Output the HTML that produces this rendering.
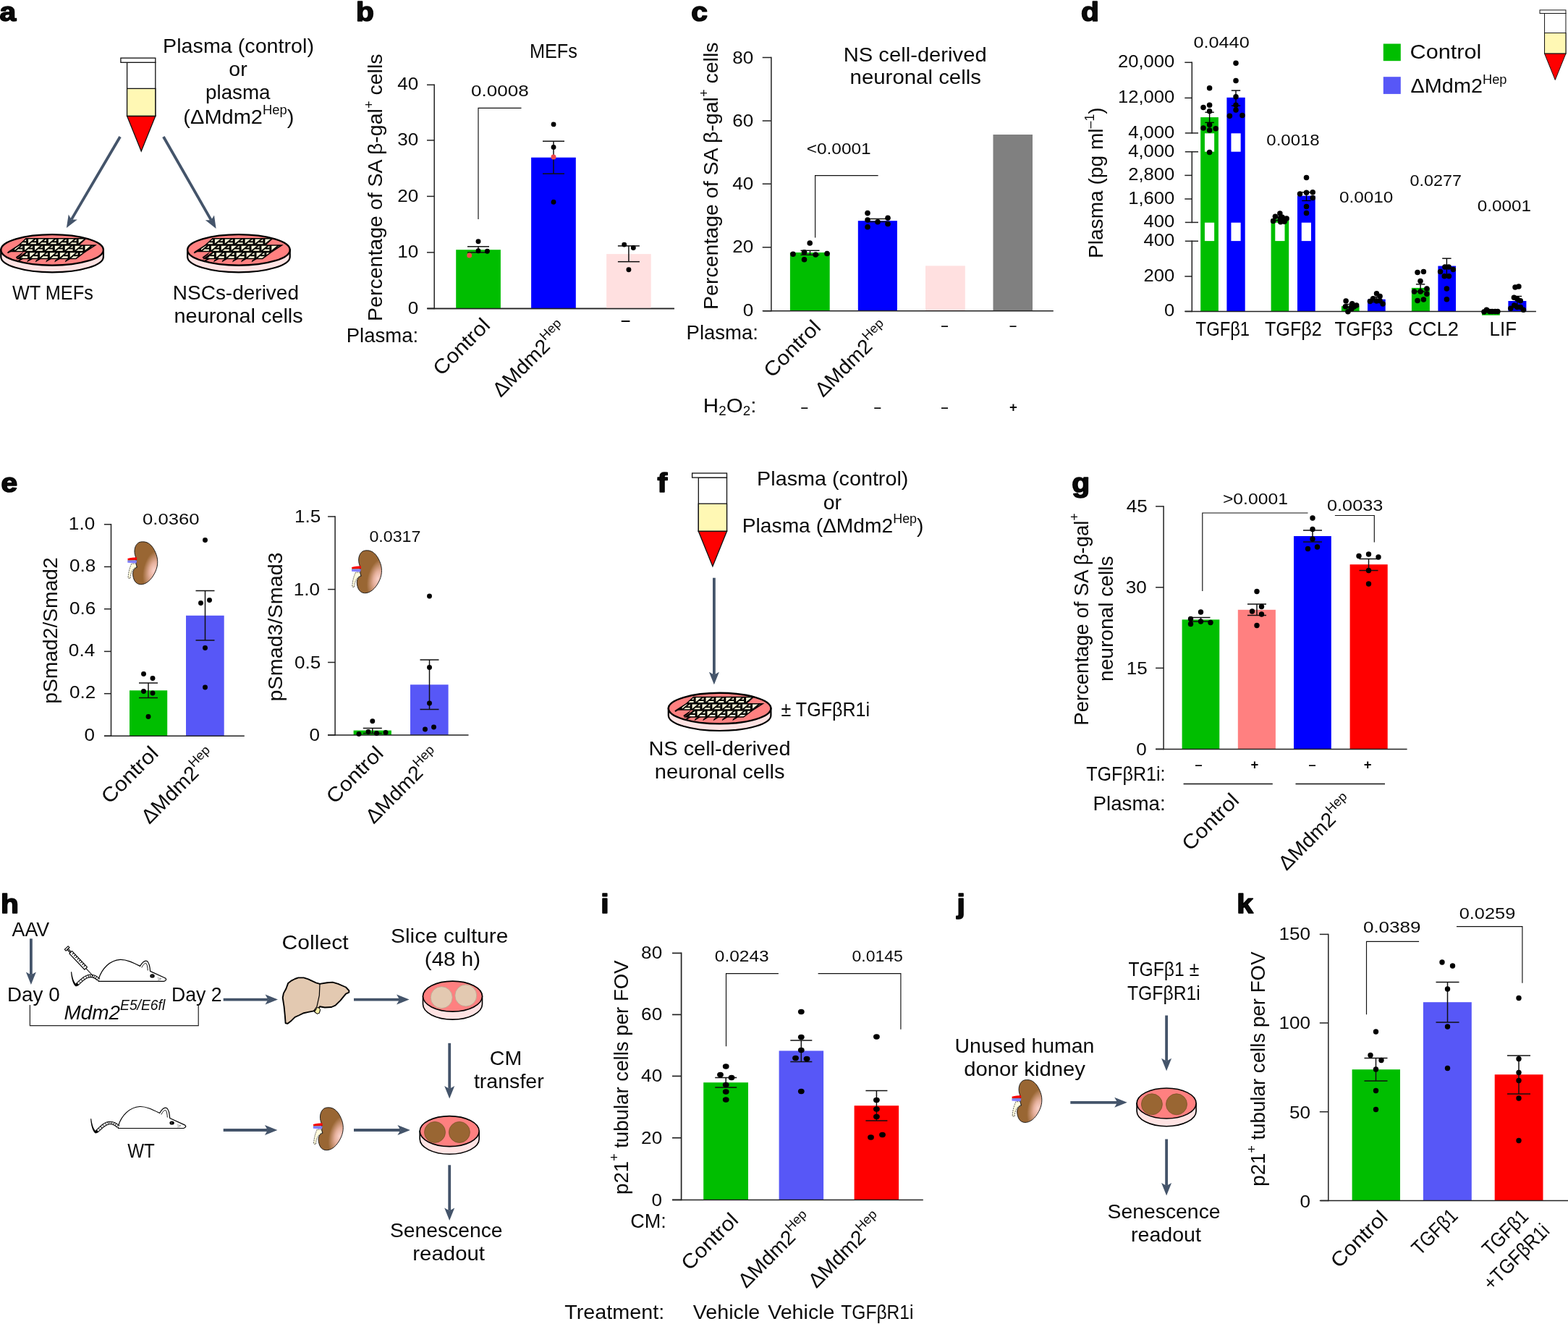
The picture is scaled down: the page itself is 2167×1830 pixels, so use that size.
<!DOCTYPE html>
<html lang="en">
<head>
<meta charset="utf-8">
<title>Figure</title>
<style>
html,body{margin:0;padding:0;background:#fff;}
svg{display:block;}
text{font-family:"Liberation Sans", "DejaVu Sans", sans-serif;fill:#0a0a0a;}
</style>
</head>
<body>
<svg width="2167" height="1830" viewBox="0 0 2167 1830">
<defs>
<radialGradient id="kidgrad" gradientUnits="userSpaceOnUse" cx="0" cy="0" r="1" gradientTransform="translate(52.6 48) rotate(14) scale(14.5 28)">
<stop offset="0" stop-color="#FBD2CA"/><stop offset="0.4" stop-color="#E6B09C"/><stop offset="1" stop-color="#996633"/>
</radialGradient>
</defs>
<rect x="0" y="0" width="2167" height="1830" fill="#ffffff"/>
<text transform="translate(-0.55,28.50) scale(1.1,1)" font-size="37" font-weight="bold" fill="#000" stroke="#000" stroke-width="1.6" stroke-linejoin="round">a</text>
<g transform="translate(166.30,79.80) scale(1.0)" stroke="#111" stroke-width="1.3" stroke-linejoin="miter"><rect x="9.3" y="6.5" width="39.2" height="74.2" fill="#fff"/><rect x="9.3" y="42.6" width="39.2" height="38.1" fill="#FFF8B4"/><polygon points="9.3,80.7 48.5,80.7 28.9,129.2" fill="#FF0000"/><rect x="0.6" y="0.4" width="47.9" height="6.1" fill="#fff"/></g>
<line x1="166.00" y1="189.00" x2="98.73" y2="303.40" stroke="#44546A" stroke-width="3.8"/>
<polygon points="91.89,315.03 94.73,296.40 98.73,303.40 106.80,303.50" fill="#44546A"/>
<line x1="225.90" y1="189.00" x2="291.89" y2="304.32" stroke="#44546A" stroke-width="3.8"/>
<polygon points="298.60,316.04 283.83,304.33 291.89,304.32 295.98,297.38" fill="#44546A"/>
<g transform="translate(0.00,0.00)"><path d="M1.2999999999999972,345.4 L1.2999999999999972,355.0 A70.8,21.3 0 0 0 142.89999999999998,355.0 L142.89999999999998,345.4 Z" fill="#FFE3E3" stroke="#000" stroke-width="2.2"/><ellipse cx="72.1" cy="345.4" rx="70.8" ry="21.3" fill="#FF8080" stroke="#000" stroke-width="2.4"/><clipPath id="rc72_0"><path d="M27.0,338.0 L36.0,329.8 L118.5,329.8 L109.5,338.0 Z"/></clipPath><path d="M27.0,338.0 L36.0,329.8 L118.5,329.8 L109.5,338.0 Z" fill="#FFFBDB" stroke="#000" stroke-width="1.5" stroke-linejoin="miter"/><g clip-path="url(#rc72_0)" fill="none" stroke="#000"><path d="M-4.1,328.8 V339.0 M9.8,328.8 V339.0 M23.7,328.8 V339.0 M37.6,328.8 V339.0 M51.5,328.8 V339.0 M65.4,328.8 V339.0 M79.3,328.8 V339.0 M93.2,328.8 V339.0 M107.1,328.8 V339.0 M121.0,328.8 V339.0 M134.9,328.8 V339.0 M148.8,328.8 V339.0 M162.7,328.8 V339.0" stroke-width="3.0"/><path d="M-3.3,338.3 L7.7,329.5 M2.9,334.3 L8.6,334.3 M10.6,338.3 L21.6,329.5 M16.8,334.3 L22.5,334.3 M24.5,338.3 L35.5,329.5 M30.7,334.3 L36.4,334.3 M38.4,338.3 L49.4,329.5 M44.6,334.3 L50.3,334.3 M52.3,338.3 L63.3,329.5 M58.5,334.3 L64.2,334.3 M66.2,338.3 L77.2,329.5 M72.4,334.3 L78.1,334.3 M80.1,338.3 L91.1,329.5 M86.3,334.3 L92.0,334.3 M94.0,338.3 L105.0,329.5 M100.2,334.3 L105.9,334.3 M107.9,338.3 L118.9,329.5 M114.1,334.3 L119.8,334.3 M121.8,338.3 L132.8,329.5 M128.0,334.3 L133.7,334.3 M135.7,338.3 L146.7,329.5 M141.9,334.3 L147.6,334.3 M149.6,338.3 L160.6,329.5 M155.8,334.3 L161.5,334.3 M163.5,338.3 L174.5,329.5 M169.7,334.3 L175.4,334.3" stroke-width="2.0"/></g><clipPath id="rc72_1"><path d="M13.0,347.4 L26.0,339.0 L131.5,339.0 L118.5,347.4 Z"/></clipPath><path d="M13.0,347.4 L26.0,339.0 L131.5,339.0 L118.5,347.4 Z" fill="#FFFBDB" stroke="#000" stroke-width="1.5" stroke-linejoin="miter"/><g clip-path="url(#rc72_1)" fill="none" stroke="#000"><path d="M-9.1,338.0 V348.4 M4.8,338.0 V348.4 M18.7,338.0 V348.4 M32.6,338.0 V348.4 M46.5,338.0 V348.4 M60.4,338.0 V348.4 M74.3,338.0 V348.4 M88.2,338.0 V348.4 M102.1,338.0 V348.4 M116.0,338.0 V348.4 M129.9,338.0 V348.4 M143.8,338.0 V348.4 M157.7,338.0 V348.4" stroke-width="3.0"/><path d="M-8.3,347.7 L2.7,338.7 M-2.1,343.6 L3.6,343.6 M5.6,347.7 L16.6,338.7 M11.8,343.6 L17.5,343.6 M19.5,347.7 L30.5,338.7 M25.7,343.6 L31.4,343.6 M33.4,347.7 L44.4,338.7 M39.6,343.6 L45.3,343.6 M47.3,347.7 L58.3,338.7 M53.5,343.6 L59.2,343.6 M61.2,347.7 L72.2,338.7 M67.4,343.6 L73.1,343.6 M75.1,347.7 L86.1,338.7 M81.3,343.6 L87.0,343.6 M89.0,347.7 L100.0,338.7 M95.2,343.6 L100.9,343.6 M102.9,347.7 L113.9,338.7 M109.1,343.6 L114.8,343.6 M116.8,347.7 L127.8,338.7 M123.0,343.6 L128.7,343.6 M130.7,347.7 L141.7,338.7 M136.9,343.6 L142.6,343.6 M144.6,347.7 L155.6,338.7 M150.8,343.6 L156.5,343.6 M158.5,347.7 L169.5,338.7 M164.7,343.6 L170.4,343.6" stroke-width="2.0"/></g><clipPath id="rc72_2"><path d="M24.5,357.4 L36.5,348.4 L117.0,348.4 L105.0,357.4 Z"/></clipPath><path d="M24.5,357.4 L36.5,348.4 L117.0,348.4 L105.0,357.4 Z" fill="#FFFBDB" stroke="#000" stroke-width="1.5" stroke-linejoin="miter"/><g clip-path="url(#rc72_2)" fill="none" stroke="#000"><path d="M-2.1,347.4 V358.4 M11.8,347.4 V358.4 M25.7,347.4 V358.4 M39.6,347.4 V358.4 M53.5,347.4 V358.4 M67.4,347.4 V358.4 M81.3,347.4 V358.4 M95.2,347.4 V358.4 M109.1,347.4 V358.4 M123.0,347.4 V358.4 M136.9,347.4 V358.4 M150.8,347.4 V358.4 M164.7,347.4 V358.4" stroke-width="3.0"/><path d="M-1.3,357.7 L9.7,348.1 M4.9,353.3 L10.6,353.3 M12.6,357.7 L23.6,348.1 M18.8,353.3 L24.5,353.3 M26.5,357.7 L37.5,348.1 M32.7,353.3 L38.4,353.3 M40.4,357.7 L51.4,348.1 M46.6,353.3 L52.3,353.3 M54.3,357.7 L65.3,348.1 M60.5,353.3 L66.2,353.3 M68.2,357.7 L79.2,348.1 M74.4,353.3 L80.1,353.3 M82.1,357.7 L93.1,348.1 M88.3,353.3 L94.0,353.3 M96.0,357.7 L107.0,348.1 M102.2,353.3 L107.9,353.3 M109.9,357.7 L120.9,348.1 M116.1,353.3 L121.8,353.3 M123.8,357.7 L134.8,348.1 M130.0,353.3 L135.7,353.3 M137.7,357.7 L148.7,348.1 M143.9,353.3 L149.6,353.3 M151.6,357.7 L162.6,348.1 M157.8,353.3 L163.5,353.3 M165.5,357.7 L176.5,348.1 M171.7,353.3 L177.4,353.3" stroke-width="2.0"/></g><path d="M33.0,357.2 L24.2,362.6 L25.2,359.8 L30.5,356.6 Z M46.0,357.2 L37.2,362.6 L38.2,359.8 L43.5,356.6 Z M57.5,357.2 L48.7,362.6 L49.7,359.8 L55.0,356.6 Z M72.0,357.2 L63.2,362.6 L64.2,359.8 L69.5,356.6 Z M84.0,357.2 L75.2,362.6 L76.2,359.8 L81.5,356.6 Z M98.5,357.2 L89.7,362.6 L90.7,359.8 L96.0,356.6 Z M25.5,339.4 L9.8,348.9 L11.0,350.2 L16.0,347.4 Z M33.0,347.6 L21.8,355.4 L23.0,357.2 L29,352.5 Z" fill="#000"/></g>
<g transform="translate(257.80,0.00)"><path d="M1.2999999999999972,345.4 L1.2999999999999972,355.0 A70.8,21.3 0 0 0 142.89999999999998,355.0 L142.89999999999998,345.4 Z" fill="#FFE3E3" stroke="#000" stroke-width="2.2"/><ellipse cx="72.1" cy="345.4" rx="70.8" ry="21.3" fill="#FF8080" stroke="#000" stroke-width="2.4"/><clipPath id="rc329_0"><path d="M27.0,338.0 L36.0,329.8 L118.5,329.8 L109.5,338.0 Z"/></clipPath><path d="M27.0,338.0 L36.0,329.8 L118.5,329.8 L109.5,338.0 Z" fill="#FFFBDB" stroke="#000" stroke-width="1.5" stroke-linejoin="miter"/><g clip-path="url(#rc329_0)" fill="none" stroke="#000"><path d="M-4.1,328.8 V339.0 M9.8,328.8 V339.0 M23.7,328.8 V339.0 M37.6,328.8 V339.0 M51.5,328.8 V339.0 M65.4,328.8 V339.0 M79.3,328.8 V339.0 M93.2,328.8 V339.0 M107.1,328.8 V339.0 M121.0,328.8 V339.0 M134.9,328.8 V339.0 M148.8,328.8 V339.0 M162.7,328.8 V339.0" stroke-width="3.0"/><path d="M-3.3,338.3 L7.7,329.5 M2.9,334.3 L8.6,334.3 M10.6,338.3 L21.6,329.5 M16.8,334.3 L22.5,334.3 M24.5,338.3 L35.5,329.5 M30.7,334.3 L36.4,334.3 M38.4,338.3 L49.4,329.5 M44.6,334.3 L50.3,334.3 M52.3,338.3 L63.3,329.5 M58.5,334.3 L64.2,334.3 M66.2,338.3 L77.2,329.5 M72.4,334.3 L78.1,334.3 M80.1,338.3 L91.1,329.5 M86.3,334.3 L92.0,334.3 M94.0,338.3 L105.0,329.5 M100.2,334.3 L105.9,334.3 M107.9,338.3 L118.9,329.5 M114.1,334.3 L119.8,334.3 M121.8,338.3 L132.8,329.5 M128.0,334.3 L133.7,334.3 M135.7,338.3 L146.7,329.5 M141.9,334.3 L147.6,334.3 M149.6,338.3 L160.6,329.5 M155.8,334.3 L161.5,334.3 M163.5,338.3 L174.5,329.5 M169.7,334.3 L175.4,334.3" stroke-width="2.0"/></g><clipPath id="rc329_1"><path d="M13.0,347.4 L26.0,339.0 L131.5,339.0 L118.5,347.4 Z"/></clipPath><path d="M13.0,347.4 L26.0,339.0 L131.5,339.0 L118.5,347.4 Z" fill="#FFFBDB" stroke="#000" stroke-width="1.5" stroke-linejoin="miter"/><g clip-path="url(#rc329_1)" fill="none" stroke="#000"><path d="M-9.1,338.0 V348.4 M4.8,338.0 V348.4 M18.7,338.0 V348.4 M32.6,338.0 V348.4 M46.5,338.0 V348.4 M60.4,338.0 V348.4 M74.3,338.0 V348.4 M88.2,338.0 V348.4 M102.1,338.0 V348.4 M116.0,338.0 V348.4 M129.9,338.0 V348.4 M143.8,338.0 V348.4 M157.7,338.0 V348.4" stroke-width="3.0"/><path d="M-8.3,347.7 L2.7,338.7 M-2.1,343.6 L3.6,343.6 M5.6,347.7 L16.6,338.7 M11.8,343.6 L17.5,343.6 M19.5,347.7 L30.5,338.7 M25.7,343.6 L31.4,343.6 M33.4,347.7 L44.4,338.7 M39.6,343.6 L45.3,343.6 M47.3,347.7 L58.3,338.7 M53.5,343.6 L59.2,343.6 M61.2,347.7 L72.2,338.7 M67.4,343.6 L73.1,343.6 M75.1,347.7 L86.1,338.7 M81.3,343.6 L87.0,343.6 M89.0,347.7 L100.0,338.7 M95.2,343.6 L100.9,343.6 M102.9,347.7 L113.9,338.7 M109.1,343.6 L114.8,343.6 M116.8,347.7 L127.8,338.7 M123.0,343.6 L128.7,343.6 M130.7,347.7 L141.7,338.7 M136.9,343.6 L142.6,343.6 M144.6,347.7 L155.6,338.7 M150.8,343.6 L156.5,343.6 M158.5,347.7 L169.5,338.7 M164.7,343.6 L170.4,343.6" stroke-width="2.0"/></g><clipPath id="rc329_2"><path d="M24.5,357.4 L36.5,348.4 L117.0,348.4 L105.0,357.4 Z"/></clipPath><path d="M24.5,357.4 L36.5,348.4 L117.0,348.4 L105.0,357.4 Z" fill="#FFFBDB" stroke="#000" stroke-width="1.5" stroke-linejoin="miter"/><g clip-path="url(#rc329_2)" fill="none" stroke="#000"><path d="M-2.1,347.4 V358.4 M11.8,347.4 V358.4 M25.7,347.4 V358.4 M39.6,347.4 V358.4 M53.5,347.4 V358.4 M67.4,347.4 V358.4 M81.3,347.4 V358.4 M95.2,347.4 V358.4 M109.1,347.4 V358.4 M123.0,347.4 V358.4 M136.9,347.4 V358.4 M150.8,347.4 V358.4 M164.7,347.4 V358.4" stroke-width="3.0"/><path d="M-1.3,357.7 L9.7,348.1 M4.9,353.3 L10.6,353.3 M12.6,357.7 L23.6,348.1 M18.8,353.3 L24.5,353.3 M26.5,357.7 L37.5,348.1 M32.7,353.3 L38.4,353.3 M40.4,357.7 L51.4,348.1 M46.6,353.3 L52.3,353.3 M54.3,357.7 L65.3,348.1 M60.5,353.3 L66.2,353.3 M68.2,357.7 L79.2,348.1 M74.4,353.3 L80.1,353.3 M82.1,357.7 L93.1,348.1 M88.3,353.3 L94.0,353.3 M96.0,357.7 L107.0,348.1 M102.2,353.3 L107.9,353.3 M109.9,357.7 L120.9,348.1 M116.1,353.3 L121.8,353.3 M123.8,357.7 L134.8,348.1 M130.0,353.3 L135.7,353.3 M137.7,357.7 L148.7,348.1 M143.9,353.3 L149.6,353.3 M151.6,357.7 L162.6,348.1 M157.8,353.3 L163.5,353.3 M165.5,357.7 L176.5,348.1 M171.7,353.3 L177.4,353.3" stroke-width="2.0"/></g><path d="M33.0,357.2 L24.2,362.6 L25.2,359.8 L30.5,356.6 Z M46.0,357.2 L37.2,362.6 L38.2,359.8 L43.5,356.6 Z M57.5,357.2 L48.7,362.6 L49.7,359.8 L55.0,356.6 Z M72.0,357.2 L63.2,362.6 L64.2,359.8 L69.5,356.6 Z M84.0,357.2 L75.2,362.6 L76.2,359.8 L81.5,356.6 Z M98.5,357.2 L89.7,362.6 L90.7,359.8 L96.0,356.6 Z M25.5,339.4 L9.8,348.9 L11.0,350.2 L16.0,347.4 Z M33.0,347.6 L21.8,355.4 L23.0,357.2 L29,352.5 Z" fill="#000"/></g>
<text x="225.10" y="72.90" font-size="28" textLength="208.91" lengthAdjust="spacingAndGlyphs">Plasma (control)</text>
<text x="316.38" y="104.80" font-size="28" textLength="25.35" lengthAdjust="spacingAndGlyphs">or</text>
<text x="284.01" y="137.40" font-size="28" textLength="89.57" lengthAdjust="spacingAndGlyphs">plasma</text>
<text x="253.36" y="170.90" font-size="28" textLength="153.01" lengthAdjust="spacingAndGlyphs">(ΔMdm2<tspan dy="-12.46" font-size="17.78">Hep</tspan><tspan dy="12.46" font-size="28">&#8203;</tspan>)</text>
<text x="16.90" y="413.60" font-size="28" textLength="111.90" lengthAdjust="spacingAndGlyphs">WT MEFs</text>
<text x="238.80" y="413.60" font-size="28" textLength="174.17" lengthAdjust="spacingAndGlyphs">NSCs-derived</text>
<text x="240.57" y="446.30" font-size="28" textLength="178.16" lengthAdjust="spacingAndGlyphs">neuronal cells</text>
<text transform="translate(491.95,28.50) scale(1.1,1)" font-size="37" font-weight="bold" fill="#000" stroke="#000" stroke-width="1.6" stroke-linejoin="round">b</text>
<text x="731.89" y="80.30" font-size="28" textLength="66.11" lengthAdjust="spacingAndGlyphs">MEFs</text>
<line x1="600.20" y1="116.55" x2="600.20" y2="427.15" stroke="#222222" stroke-width="1.5"/>
<line x1="590.00" y1="117.30" x2="600.20" y2="117.30" stroke="#222222" stroke-width="1.5"/>
<text x="549.23" y="124.40" font-size="23.3" textLength="29.02" lengthAdjust="spacingAndGlyphs">40</text>
<line x1="590.00" y1="193.90" x2="600.20" y2="193.90" stroke="#222222" stroke-width="1.5"/>
<text x="549.23" y="201.07" font-size="23.3" textLength="29.02" lengthAdjust="spacingAndGlyphs">30</text>
<line x1="590.00" y1="271.40" x2="600.20" y2="271.40" stroke="#222222" stroke-width="1.5"/>
<text x="549.23" y="278.65" font-size="23.3" textLength="29.02" lengthAdjust="spacingAndGlyphs">20</text>
<line x1="590.00" y1="348.90" x2="600.20" y2="348.90" stroke="#222222" stroke-width="1.5"/>
<text x="549.23" y="356.22" font-size="23.3" textLength="29.02" lengthAdjust="spacingAndGlyphs">10</text>
<line x1="590.00" y1="426.40" x2="600.20" y2="426.40" stroke="#222222" stroke-width="1.5"/>
<text x="563.74" y="433.80" font-size="23.3" textLength="14.51" lengthAdjust="spacingAndGlyphs">0</text>
<line x1="590.50" y1="426.40" x2="931.90" y2="426.40" stroke="#222222" stroke-width="1.5"/>
<rect x="630.20" y="345.20" width="61.70" height="81.20" fill="#00BE00"/>
<rect x="734.10" y="217.70" width="61.70" height="208.70" fill="#0000FF"/>
<rect x="838.10" y="351.10" width="61.60" height="75.30" fill="#FFE0E0"/>
<line x1="590.50" y1="426.40" x2="931.90" y2="426.40" stroke="#222222" stroke-width="1.5"/>
<line x1="661.00" y1="340.80" x2="661.00" y2="348.90" stroke="#111" stroke-width="1.5"/>
<line x1="646.00" y1="340.80" x2="676.00" y2="340.80" stroke="#111" stroke-width="1.5"/>
<line x1="646.00" y1="348.90" x2="676.00" y2="348.90" stroke="#111" stroke-width="1.5"/>
<line x1="765.00" y1="195.20" x2="765.00" y2="240.10" stroke="#111" stroke-width="1.5"/>
<line x1="750.00" y1="195.20" x2="780.00" y2="195.20" stroke="#111" stroke-width="1.5"/>
<line x1="750.00" y1="240.10" x2="780.00" y2="240.10" stroke="#111" stroke-width="1.5"/>
<line x1="868.90" y1="339.90" x2="868.90" y2="361.70" stroke="#111" stroke-width="1.5"/>
<line x1="853.90" y1="339.90" x2="883.90" y2="339.90" stroke="#111" stroke-width="1.5"/>
<line x1="853.90" y1="361.70" x2="883.90" y2="361.70" stroke="#111" stroke-width="1.5"/>
<circle cx="661.00" cy="333.70" r="3.45" fill="#000"/>
<circle cx="661.00" cy="346.70" r="3.45" fill="#000"/>
<circle cx="673.40" cy="347.20" r="3.45" fill="#000"/>
<circle cx="648.70" cy="352.90" r="3.5" fill="#F04848"/>
<circle cx="765.00" cy="171.90" r="3.45" fill="#000"/>
<circle cx="765.00" cy="203.40" r="3.45" fill="#000"/>
<circle cx="765.00" cy="279.30" r="3.45" fill="#000"/>
<circle cx="765.00" cy="217.00" r="3.5" fill="#F04848"/>
<circle cx="862.70" cy="338.10" r="3.45" fill="#000"/>
<circle cx="875.30" cy="342.50" r="3.45" fill="#000"/>
<circle cx="868.90" cy="372.70" r="3.45" fill="#000"/>
<polyline points="661.00,302.90 661.00,149.40 720.50,149.40" fill="none" stroke="#111" stroke-width="1.15" stroke-linejoin="miter"/>
<text x="651.10" y="133.00" font-size="22.8" textLength="79.68" lengthAdjust="spacingAndGlyphs">0.0008</text>
<text transform="translate(528.00,442.00) rotate(-90)" x="-2.03" y="0" font-size="28" textLength="369.54" lengthAdjust="spacingAndGlyphs">Percentage of SA β-gal<tspan dy="-12.46" font-size="17.78">+</tspan><tspan dy="12.46" font-size="28">&#8203;</tspan> cells</text>
<text x="478.73" y="472.90" font-size="28" textLength="99.52" lengthAdjust="spacingAndGlyphs">Plasma:</text>
<text transform="translate(678.00,452.30) rotate(-45)" x="-96.48" y="0" font-size="28" textLength="97.81" lengthAdjust="spacingAndGlyphs">Control</text>
<text transform="translate(785.50,456.50) rotate(-45)" x="-132.20" y="0" font-size="28" textLength="132.08" lengthAdjust="spacingAndGlyphs">ΔMdm2<tspan dy="-12.46" font-size="17.78">Hep</tspan><tspan dy="12.46" font-size="28">&#8203;</tspan></text>
<text x="858.80" y="452.10" font-size="29.9" textLength="11.73" lengthAdjust="spacingAndGlyphs">–</text>
<text transform="translate(955.15,28.50) scale(1.1,1)" font-size="37" font-weight="bold" fill="#000" stroke="#000" stroke-width="1.6" stroke-linejoin="round">c</text>
<line x1="1065.90" y1="78.75" x2="1065.90" y2="430.45" stroke="#222222" stroke-width="1.5"/>
<line x1="1053.70" y1="79.50" x2="1065.90" y2="79.50" stroke="#222222" stroke-width="1.5"/>
<text x="1012.33" y="87.50" font-size="23.3" textLength="29.02" lengthAdjust="spacingAndGlyphs">80</text>
<line x1="1053.70" y1="167.00" x2="1065.90" y2="167.00" stroke="#222222" stroke-width="1.5"/>
<text x="1012.33" y="174.75" font-size="23.3" textLength="29.02" lengthAdjust="spacingAndGlyphs">60</text>
<line x1="1053.70" y1="254.20" x2="1065.90" y2="254.20" stroke="#222222" stroke-width="1.5"/>
<text x="1012.33" y="261.70" font-size="23.3" textLength="29.02" lengthAdjust="spacingAndGlyphs">40</text>
<line x1="1053.70" y1="341.80" x2="1065.90" y2="341.80" stroke="#222222" stroke-width="1.5"/>
<text x="1012.33" y="349.05" font-size="23.3" textLength="29.02" lengthAdjust="spacingAndGlyphs">20</text>
<line x1="1053.70" y1="429.70" x2="1065.90" y2="429.70" stroke="#222222" stroke-width="1.5"/>
<text x="1026.84" y="436.70" font-size="23.3" textLength="14.51" lengthAdjust="spacingAndGlyphs">0</text>
<rect x="1091.90" y="349.00" width="54.80" height="80.70" fill="#00BE00"/>
<rect x="1185.80" y="305.20" width="54.10" height="124.50" fill="#0000FF"/>
<rect x="1279.00" y="367.40" width="54.80" height="62.30" fill="#FFE0E0"/>
<rect x="1372.50" y="186.00" width="54.50" height="243.70" fill="#808080"/>
<line x1="1054.60" y1="429.70" x2="1455.80" y2="429.70" stroke="#222222" stroke-width="1.5"/>
<text x="1165.71" y="85.00" font-size="28" textLength="197.92" lengthAdjust="spacingAndGlyphs">NS cell-derived</text>
<text x="1174.55" y="116.00" font-size="28" textLength="181.40" lengthAdjust="spacingAndGlyphs">neuronal cells</text>
<text x="1114.73" y="212.80" font-size="22.8" textLength="89.00" lengthAdjust="spacingAndGlyphs">&lt;0.0001</text>
<polyline points="1126.60,328.40 1126.60,242.60 1213.60,242.60" fill="none" stroke="#111" stroke-width="1.15" stroke-linejoin="miter"/>
<line x1="1119.50" y1="346.30" x2="1119.50" y2="352.30" stroke="#111" stroke-width="1.5"/>
<line x1="1106.50" y1="346.30" x2="1132.50" y2="346.30" stroke="#111" stroke-width="1.5"/>
<line x1="1106.50" y1="352.30" x2="1132.50" y2="352.30" stroke="#111" stroke-width="1.5"/>
<line x1="1213.00" y1="302.50" x2="1213.00" y2="306.50" stroke="#111" stroke-width="1.5"/>
<line x1="1200.00" y1="302.50" x2="1226.00" y2="302.50" stroke="#111" stroke-width="1.5"/>
<line x1="1200.00" y1="306.50" x2="1226.00" y2="306.50" stroke="#111" stroke-width="1.5"/>
<circle cx="1096.00" cy="351.30" r="3.8" fill="#000"/>
<circle cx="1111.50" cy="348.70" r="3.8" fill="#000"/>
<circle cx="1111.50" cy="358.80" r="3.8" fill="#000"/>
<circle cx="1119.20" cy="336.00" r="3.8" fill="#000"/>
<circle cx="1127.20" cy="352.00" r="3.8" fill="#000"/>
<circle cx="1143.00" cy="350.50" r="3.8" fill="#000"/>
<circle cx="1199.00" cy="294.60" r="3.8" fill="#000"/>
<circle cx="1199.00" cy="304.00" r="3.8" fill="#000"/>
<circle cx="1199.00" cy="313.80" r="3.8" fill="#000"/>
<circle cx="1213.00" cy="306.80" r="3.8" fill="#000"/>
<circle cx="1227.00" cy="301.30" r="3.8" fill="#000"/>
<circle cx="1227.00" cy="309.50" r="3.8" fill="#000"/>
<text transform="translate(991.50,426.00) rotate(-90)" x="-2.03" y="0" font-size="28" textLength="369.54" lengthAdjust="spacingAndGlyphs">Percentage of SA β-gal<tspan dy="-12.46" font-size="17.78">+</tspan><tspan dy="12.46" font-size="28">&#8203;</tspan> cells</text>
<text x="948.53" y="469.40" font-size="28" textLength="99.52" lengthAdjust="spacingAndGlyphs">Plasma:</text>
<text transform="translate(1135.00,455.00) rotate(-45)" x="-96.48" y="0" font-size="28" textLength="97.81" lengthAdjust="spacingAndGlyphs">Control</text>
<text transform="translate(1231.00,456.50) rotate(-45)" x="-132.20" y="0" font-size="28" textLength="132.08" lengthAdjust="spacingAndGlyphs">ΔMdm2<tspan dy="-12.46" font-size="17.78">Hep</tspan><tspan dy="12.46" font-size="28">&#8203;</tspan></text>
<text x="1301.10" y="457.85" font-size="26" textLength="9.06" lengthAdjust="spacingAndGlyphs">–</text>
<text x="1395.40" y="457.85" font-size="26" textLength="9.06" lengthAdjust="spacingAndGlyphs">–</text>
<text x="971.89" y="569.60" font-size="28" textLength="73.49" lengthAdjust="spacingAndGlyphs">H<tspan dy="4.76" font-size="17.78">2</tspan><tspan dy="-4.76" font-size="28">&#8203;</tspan>O<tspan dy="4.76" font-size="17.78">2</tspan><tspan dy="-4.76" font-size="28">&#8203;</tspan>:</text>
<text x="1107.30" y="570.55" font-size="26" textLength="9.06" lengthAdjust="spacingAndGlyphs">–</text>
<text x="1208.30" y="570.55" font-size="26" textLength="9.06" lengthAdjust="spacingAndGlyphs">–</text>
<text x="1301.10" y="570.55" font-size="26" textLength="9.06" lengthAdjust="spacingAndGlyphs">–</text>
<text x="1394.95" y="568.90" font-size="18" font-weight="bold" textLength="10.83" lengthAdjust="spacingAndGlyphs">+</text>
<text transform="translate(1494.00,28.50) scale(1.1,1)" font-size="37" font-weight="bold" fill="#000" stroke="#000" stroke-width="1.6" stroke-linejoin="round">d</text>
<line x1="1647.30" y1="85.55" x2="1647.30" y2="184.65" stroke="#222222" stroke-width="1.5"/>
<line x1="1647.30" y1="209.05" x2="1647.30" y2="308.15" stroke="#222222" stroke-width="1.5"/>
<line x1="1647.30" y1="332.55" x2="1647.30" y2="431.15" stroke="#222222" stroke-width="1.5"/>
<line x1="1637.30" y1="86.30" x2="1647.30" y2="86.30" stroke="#222222" stroke-width="1.5"/>
<text x="1544.97" y="93.20" font-size="23.3" textLength="78.38" lengthAdjust="spacingAndGlyphs">20,000</text>
<line x1="1637.30" y1="135.40" x2="1647.30" y2="135.40" stroke="#222222" stroke-width="1.5"/>
<text x="1544.97" y="142.30" font-size="23.3" textLength="78.38" lengthAdjust="spacingAndGlyphs">12,000</text>
<line x1="1637.80" y1="183.90" x2="1656.00" y2="183.90" stroke="#222222" stroke-width="1.5"/>
<text x="1559.22" y="190.80" font-size="23.3" textLength="64.13" lengthAdjust="spacingAndGlyphs">4,000</text>
<line x1="1637.80" y1="209.80" x2="1656.00" y2="209.80" stroke="#222222" stroke-width="1.5"/>
<text x="1559.22" y="216.70" font-size="23.3" textLength="64.13" lengthAdjust="spacingAndGlyphs">4,000</text>
<line x1="1637.30" y1="242.40" x2="1647.30" y2="242.40" stroke="#222222" stroke-width="1.5"/>
<text x="1559.22" y="249.30" font-size="23.3" textLength="64.13" lengthAdjust="spacingAndGlyphs">2,800</text>
<line x1="1637.30" y1="275.00" x2="1647.30" y2="275.00" stroke="#222222" stroke-width="1.5"/>
<text x="1559.22" y="281.90" font-size="23.3" textLength="64.13" lengthAdjust="spacingAndGlyphs">1,600</text>
<line x1="1637.80" y1="307.40" x2="1656.00" y2="307.40" stroke="#222222" stroke-width="1.5"/>
<text x="1580.60" y="314.30" font-size="23.3" textLength="42.76" lengthAdjust="spacingAndGlyphs">400</text>
<line x1="1637.80" y1="333.30" x2="1656.00" y2="333.30" stroke="#222222" stroke-width="1.5"/>
<text x="1580.60" y="340.20" font-size="23.3" textLength="42.76" lengthAdjust="spacingAndGlyphs">400</text>
<line x1="1637.30" y1="382.00" x2="1647.30" y2="382.00" stroke="#222222" stroke-width="1.5"/>
<text x="1580.60" y="388.90" font-size="23.3" textLength="42.76" lengthAdjust="spacingAndGlyphs">200</text>
<line x1="1637.30" y1="430.40" x2="1647.30" y2="430.40" stroke="#222222" stroke-width="1.5"/>
<text x="1609.10" y="437.30" font-size="23.3" textLength="14.25" lengthAdjust="spacingAndGlyphs">0</text>
<rect x="1659.20" y="162.10" width="24.70" height="268.30" fill="#00BE00"/>
<rect x="1695.40" y="134.80" width="25.30" height="295.60" fill="#0000FF"/>
<rect x="1756.60" y="302.50" width="24.60" height="127.90" fill="#00BE00"/>
<rect x="1793.00" y="270.60" width="24.70" height="159.80" fill="#0000FF"/>
<rect x="1853.90" y="423.20" width="24.70" height="7.20" fill="#00BE00"/>
<rect x="1890.00" y="413.70" width="24.70" height="16.70" fill="#0000FF"/>
<rect x="1950.90" y="397.90" width="25.00" height="32.50" fill="#00BE00"/>
<rect x="1987.40" y="367.60" width="24.60" height="62.80" fill="#0000FF"/>
<rect x="2084.40" y="416.00" width="25.00" height="14.40" fill="#0000FF"/>
<rect x="2048.00" y="430.40" width="24.80" height="5.30" fill="#00BE00"/>
<rect x="1664.95" y="184.30" width="13.20" height="25.40" fill="#fff"/>
<rect x="1664.95" y="307.70" width="13.20" height="25.40" fill="#fff"/>
<rect x="1701.45" y="184.30" width="13.20" height="25.40" fill="#fff"/>
<rect x="1701.45" y="307.70" width="13.20" height="25.40" fill="#fff"/>
<rect x="1762.30" y="307.70" width="13.20" height="25.40" fill="#fff"/>
<rect x="1798.75" y="307.70" width="13.20" height="25.40" fill="#fff"/>
<line x1="1637.80" y1="430.40" x2="2122.90" y2="430.40" stroke="#222222" stroke-width="1.5"/>
<line x1="1671.60" y1="155.20" x2="1671.60" y2="169.40" stroke="#000" stroke-width="1.4"/>
<line x1="1665.40" y1="155.20" x2="1677.80" y2="155.20" stroke="#000" stroke-width="1.4"/>
<line x1="1665.40" y1="169.40" x2="1677.80" y2="169.40" stroke="#000" stroke-width="1.4"/>
<line x1="1708.00" y1="125.10" x2="1708.00" y2="146.10" stroke="#000" stroke-width="1.4"/>
<line x1="1701.80" y1="125.10" x2="1714.20" y2="125.10" stroke="#000" stroke-width="1.4"/>
<line x1="1701.80" y1="146.10" x2="1714.20" y2="146.10" stroke="#000" stroke-width="1.4"/>
<line x1="1769.30" y1="300.20" x2="1769.30" y2="304.60" stroke="#000" stroke-width="1.4"/>
<line x1="1763.10" y1="300.20" x2="1775.50" y2="300.20" stroke="#000" stroke-width="1.4"/>
<line x1="1763.10" y1="304.60" x2="1775.50" y2="304.60" stroke="#000" stroke-width="1.4"/>
<line x1="1805.50" y1="265.70" x2="1805.50" y2="277.40" stroke="#000" stroke-width="1.4"/>
<line x1="1799.30" y1="265.70" x2="1811.70" y2="265.70" stroke="#000" stroke-width="1.4"/>
<line x1="1799.30" y1="277.40" x2="1811.70" y2="277.40" stroke="#000" stroke-width="1.4"/>
<line x1="1866.50" y1="420.50" x2="1866.50" y2="425.50" stroke="#000" stroke-width="1.4"/>
<line x1="1860.30" y1="420.50" x2="1872.70" y2="420.50" stroke="#000" stroke-width="1.4"/>
<line x1="1860.30" y1="425.50" x2="1872.70" y2="425.50" stroke="#000" stroke-width="1.4"/>
<line x1="1902.50" y1="410.50" x2="1902.50" y2="417.50" stroke="#000" stroke-width="1.4"/>
<line x1="1896.30" y1="410.50" x2="1908.70" y2="410.50" stroke="#000" stroke-width="1.4"/>
<line x1="1896.30" y1="417.50" x2="1908.70" y2="417.50" stroke="#000" stroke-width="1.4"/>
<line x1="1963.10" y1="392.90" x2="1963.10" y2="403.00" stroke="#000" stroke-width="1.4"/>
<line x1="1956.90" y1="392.90" x2="1969.30" y2="392.90" stroke="#000" stroke-width="1.4"/>
<line x1="1956.90" y1="403.00" x2="1969.30" y2="403.00" stroke="#000" stroke-width="1.4"/>
<line x1="1999.40" y1="357.20" x2="1999.40" y2="381.00" stroke="#000" stroke-width="1.4"/>
<line x1="1993.20" y1="357.20" x2="2005.60" y2="357.20" stroke="#000" stroke-width="1.4"/>
<line x1="1993.20" y1="381.00" x2="2005.60" y2="381.00" stroke="#000" stroke-width="1.4"/>
<line x1="2096.80" y1="409.50" x2="2096.80" y2="423.00" stroke="#000" stroke-width="1.4"/>
<line x1="2090.60" y1="409.50" x2="2103.00" y2="409.50" stroke="#000" stroke-width="1.4"/>
<line x1="2090.60" y1="423.00" x2="2103.00" y2="423.00" stroke="#000" stroke-width="1.4"/>
<circle cx="1671.60" cy="121.70" r="3.75" fill="#000"/>
<circle cx="1671.60" cy="145.20" r="3.75" fill="#000"/>
<circle cx="1663.00" cy="148.50" r="3.75" fill="#000"/>
<circle cx="1671.60" cy="153.80" r="3.75" fill="#000"/>
<circle cx="1671.60" cy="172.40" r="3.75" fill="#000"/>
<circle cx="1663.00" cy="177.00" r="3.75" fill="#000"/>
<circle cx="1680.20" cy="177.70" r="3.75" fill="#000"/>
<circle cx="1671.60" cy="180.10" r="3.75" fill="#000"/>
<circle cx="1671.60" cy="210.50" r="3.75" fill="#000"/>
<circle cx="1708.00" cy="87.20" r="3.75" fill="#000"/>
<circle cx="1708.00" cy="111.40" r="3.75" fill="#000"/>
<circle cx="1708.00" cy="133.70" r="3.75" fill="#000"/>
<circle cx="1708.00" cy="145.20" r="3.75" fill="#000"/>
<circle cx="1708.00" cy="152.10" r="3.75" fill="#000"/>
<circle cx="1699.40" cy="160.20" r="3.75" fill="#000"/>
<circle cx="1716.90" cy="159.50" r="3.75" fill="#000"/>
<circle cx="1768.90" cy="294.90" r="3.75" fill="#000"/>
<circle cx="1762.40" cy="299.30" r="3.75" fill="#000"/>
<circle cx="1759.60" cy="305.40" r="3.75" fill="#000"/>
<circle cx="1769.20" cy="301.40" r="3.75" fill="#000"/>
<circle cx="1772.10" cy="300.20" r="3.75" fill="#000"/>
<circle cx="1778.10" cy="302.00" r="3.75" fill="#000"/>
<circle cx="1769.80" cy="306.80" r="3.75" fill="#000"/>
<circle cx="1775.10" cy="306.20" r="3.75" fill="#000"/>
<circle cx="1805.50" cy="245.50" r="3.75" fill="#000"/>
<circle cx="1796.50" cy="268.10" r="3.75" fill="#000"/>
<circle cx="1805.50" cy="266.30" r="3.75" fill="#000"/>
<circle cx="1814.20" cy="265.70" r="3.75" fill="#000"/>
<circle cx="1814.20" cy="273.50" r="3.75" fill="#000"/>
<circle cx="1805.50" cy="285.40" r="3.75" fill="#000"/>
<circle cx="1805.50" cy="294.60" r="3.75" fill="#000"/>
<circle cx="1860.10" cy="416.10" r="3.75" fill="#000"/>
<circle cx="1868.70" cy="419.70" r="3.75" fill="#000"/>
<circle cx="1874.70" cy="422.00" r="3.75" fill="#000"/>
<circle cx="1859.40" cy="423.80" r="3.75" fill="#000"/>
<circle cx="1867.10" cy="424.80" r="3.75" fill="#000"/>
<circle cx="1871.20" cy="424.10" r="3.75" fill="#000"/>
<circle cx="1862.90" cy="430.80" r="3.75" fill="#000"/>
<circle cx="1867.80" cy="426.90" r="3.75" fill="#000"/>
<circle cx="1902.50" cy="405.80" r="3.75" fill="#000"/>
<circle cx="1907.10" cy="409.50" r="3.75" fill="#000"/>
<circle cx="1897.60" cy="412.70" r="3.75" fill="#000"/>
<circle cx="1893.40" cy="416.50" r="3.75" fill="#000"/>
<circle cx="1902.50" cy="416.10" r="3.75" fill="#000"/>
<circle cx="1907.10" cy="415.80" r="3.75" fill="#000"/>
<circle cx="1911.10" cy="420.00" r="3.75" fill="#000"/>
<circle cx="1959.00" cy="376.60" r="3.75" fill="#000"/>
<circle cx="1967.40" cy="375.50" r="3.75" fill="#000"/>
<circle cx="1963.00" cy="388.40" r="3.75" fill="#000"/>
<circle cx="1971.90" cy="399.10" r="3.75" fill="#000"/>
<circle cx="1954.50" cy="403.00" r="3.75" fill="#000"/>
<circle cx="1963.10" cy="403.00" r="3.75" fill="#000"/>
<circle cx="1971.90" cy="406.30" r="3.75" fill="#000"/>
<circle cx="1959.00" cy="415.50" r="3.75" fill="#000"/>
<circle cx="1967.40" cy="414.00" r="3.75" fill="#000"/>
<circle cx="1996.90" cy="368.90" r="3.75" fill="#000"/>
<circle cx="2002.10" cy="368.90" r="3.75" fill="#000"/>
<circle cx="1990.60" cy="375.50" r="3.75" fill="#000"/>
<circle cx="2008.30" cy="372.50" r="3.75" fill="#000"/>
<circle cx="1996.20" cy="381.80" r="3.75" fill="#000"/>
<circle cx="2002.40" cy="381.80" r="3.75" fill="#000"/>
<circle cx="1999.40" cy="399.10" r="3.75" fill="#000"/>
<circle cx="1999.40" cy="413.70" r="3.75" fill="#000"/>
<circle cx="2051.00" cy="431.10" r="3.75" fill="#000"/>
<circle cx="2054.50" cy="428.30" r="3.75" fill="#000"/>
<circle cx="2058.70" cy="430.40" r="3.75" fill="#000"/>
<circle cx="2062.10" cy="430.60" r="3.75" fill="#000"/>
<circle cx="2066.30" cy="430.60" r="3.75" fill="#000"/>
<circle cx="2069.80" cy="430.60" r="3.75" fill="#000"/>
<circle cx="2094.00" cy="397.00" r="3.75" fill="#000"/>
<circle cx="2098.90" cy="396.10" r="3.75" fill="#000"/>
<circle cx="2092.40" cy="411.30" r="3.75" fill="#000"/>
<circle cx="2096.80" cy="413.30" r="3.75" fill="#000"/>
<circle cx="2101.30" cy="415.80" r="3.75" fill="#000"/>
<circle cx="2092.70" cy="422.00" r="3.75" fill="#000"/>
<circle cx="2096.80" cy="424.40" r="3.75" fill="#000"/>
<circle cx="2101.30" cy="424.40" r="3.75" fill="#000"/>
<circle cx="2087.80" cy="426.20" r="3.75" fill="#000"/>
<circle cx="2105.40" cy="428.30" r="3.75" fill="#000"/>
<rect x="1911.80" y="60.50" width="24.00" height="23.70" fill="#00BE00"/>
<text x="1948.50" y="80.60" font-size="28" textLength="98.93" lengthAdjust="spacingAndGlyphs">Control</text>
<rect x="1911.80" y="106.20" width="24.00" height="23.70" fill="#5757F7"/>
<text x="1949.60" y="128.20" font-size="28" textLength="132.88" lengthAdjust="spacingAndGlyphs">ΔMdm2<tspan dy="-12.46" font-size="17.78">Hep</tspan><tspan dy="12.46" font-size="28">&#8203;</tspan></text>
<g transform="translate(2127.60,13.60) scale(0.75)" stroke="#111" stroke-width="1.3" stroke-linejoin="miter"><rect x="9.3" y="6.5" width="39.2" height="74.2" fill="#fff"/><rect x="9.3" y="42.6" width="39.2" height="38.1" fill="#FFF8B4"/><polygon points="9.3,80.7 48.5,80.7 28.9,129.2" fill="#FF0000"/><rect x="0.6" y="0.4" width="47.9" height="6.1" fill="#fff"/></g>
<text x="1649.40" y="65.60" font-size="22.8" textLength="77.35" lengthAdjust="spacingAndGlyphs">0.0440</text>
<text x="1750.30" y="201.40" font-size="22.8" textLength="73.41" lengthAdjust="spacingAndGlyphs">0.0018</text>
<text x="1850.90" y="280.30" font-size="22.8" textLength="74.42" lengthAdjust="spacingAndGlyphs">0.0010</text>
<text x="1948.60" y="257.30" font-size="22.8" textLength="71.39" lengthAdjust="spacingAndGlyphs">0.0277</text>
<text x="2041.70" y="291.80" font-size="22.8" textLength="74.32" lengthAdjust="spacingAndGlyphs">0.0001</text>
<text x="1652.60" y="463.70" font-size="28" textLength="74.49" lengthAdjust="spacingAndGlyphs">TGFβ1</text>
<text x="1748.00" y="463.70" font-size="28" textLength="78.81" lengthAdjust="spacingAndGlyphs">TGFβ2</text>
<text x="1844.40" y="463.70" font-size="28" textLength="80.73" lengthAdjust="spacingAndGlyphs">TGFβ3</text>
<text x="1946.02" y="463.70" font-size="28" textLength="69.94" lengthAdjust="spacingAndGlyphs">CCL2</text>
<text x="2058.55" y="463.70" font-size="28" textLength="37.47" lengthAdjust="spacingAndGlyphs">LIF</text>
<text transform="translate(1524.00,355.00) rotate(-90)" x="-2.01" y="0" font-size="28" textLength="208.74" lengthAdjust="spacingAndGlyphs">Plasma (pg ml<tspan dy="-12.46" font-size="17.78">–1</tspan><tspan dy="12.46" font-size="28">&#8203;</tspan>)</text>
<text transform="translate(1.40,680.30) scale(1.1,1)" font-size="37" font-weight="bold" fill="#000" stroke="#000" stroke-width="1.6" stroke-linejoin="round">e</text>
<line x1="153.50" y1="724.05" x2="153.50" y2="1018.05" stroke="#222222" stroke-width="1.5"/>
<line x1="143.90" y1="724.80" x2="153.50" y2="724.80" stroke="#222222" stroke-width="1.5"/>
<text x="94.88" y="732.00" font-size="23.3" textLength="36.27" lengthAdjust="spacingAndGlyphs">1.0</text>
<line x1="143.90" y1="783.40" x2="153.50" y2="783.40" stroke="#222222" stroke-width="1.5"/>
<text x="96.00" y="790.42" font-size="23.3" textLength="36.27" lengthAdjust="spacingAndGlyphs">0.8</text>
<line x1="143.90" y1="841.70" x2="153.50" y2="841.70" stroke="#222222" stroke-width="1.5"/>
<text x="96.00" y="848.54" font-size="23.3" textLength="36.27" lengthAdjust="spacingAndGlyphs">0.6</text>
<line x1="143.90" y1="900.40" x2="153.50" y2="900.40" stroke="#222222" stroke-width="1.5"/>
<text x="94.88" y="907.06" font-size="23.3" textLength="36.27" lengthAdjust="spacingAndGlyphs">0.4</text>
<line x1="143.90" y1="958.70" x2="153.50" y2="958.70" stroke="#222222" stroke-width="1.5"/>
<text x="96.00" y="965.18" font-size="23.3" textLength="36.27" lengthAdjust="spacingAndGlyphs">0.2</text>
<line x1="143.90" y1="1017.30" x2="153.50" y2="1017.30" stroke="#222222" stroke-width="1.5"/>
<text x="116.64" y="1023.60" font-size="23.3" textLength="14.51" lengthAdjust="spacingAndGlyphs">0</text>
<rect x="179.00" y="954.30" width="52.20" height="63.00" fill="#00BE00"/>
<rect x="257.00" y="850.80" width="52.70" height="166.50" fill="#5757F7"/>
<line x1="144.10" y1="1017.30" x2="337.80" y2="1017.30" stroke="#222222" stroke-width="1.5"/>
<text x="197.00" y="724.60" font-size="22.8" textLength="78.56" lengthAdjust="spacingAndGlyphs">0.0360</text>
<text transform="translate(78.50,971.80) rotate(-90)" x="-1.01" y="0" font-size="28" textLength="202.59" lengthAdjust="spacingAndGlyphs">pSmad2/Smad2</text>
<g transform="translate(160.00,740.00)"><path d="M21.77,39.00 C19.95,43.54 17.69,48.07 17.01,58.96 L19.95,59.64 C20.41,50.79 23.58,45.80 29.02,43.54 L28.12,39.00 Z" fill="#FFFADC" stroke="#222" stroke-width="0.7" stroke-dasharray="2 1"/><path d="M37.64,8.84 C45.35,8.62 51.25,14.97 54.88,23.58 C58.50,31.75 58.96,40.82 54.88,49.89 C51.25,58.05 44.67,66.67 36.28,67.66 C29.02,68.48 24.94,63.49 23.81,55.78 C22.90,49.43 25.17,45.35 29.48,44.22 C27.21,39.91 29.02,34.47 27.21,29.02 C24.49,21.77 26.30,13.61 31.29,10.20 C33.56,8.84 35.83,8.84 37.64,8.84 Z" fill="url(#kidgrad)" stroke="#111" stroke-width="0.9"/><path d="M16.33,34.92 L29.25,34.38 L28.34,38.55 L16.33,37.87 Z" fill="#8080FF"/><path d="M16.33,31.97 C20.41,30.84 25.40,30.84 29.02,30.29 L29.25,34.01 L16.78,34.33 Z" fill="#FF0000"/><path d="M16.33,34.47 L29.02,34.10" stroke="#333" stroke-width="0.5" fill="none"/></g>
<line x1="205.00" y1="944.00" x2="205.00" y2="964.50" stroke="#111" stroke-width="1.5"/>
<line x1="192.00" y1="944.00" x2="218.00" y2="944.00" stroke="#111" stroke-width="1.5"/>
<line x1="192.00" y1="964.50" x2="218.00" y2="964.50" stroke="#111" stroke-width="1.5"/>
<line x1="283.50" y1="816.50" x2="283.50" y2="885.00" stroke="#111" stroke-width="1.5"/>
<line x1="270.50" y1="816.50" x2="296.50" y2="816.50" stroke="#111" stroke-width="1.5"/>
<line x1="270.50" y1="885.00" x2="296.50" y2="885.00" stroke="#111" stroke-width="1.5"/>
<circle cx="198.50" cy="931.50" r="3.45" fill="#000"/>
<circle cx="211.00" cy="937.50" r="3.45" fill="#000"/>
<circle cx="198.50" cy="955.50" r="3.45" fill="#000"/>
<circle cx="211.00" cy="958.00" r="3.45" fill="#000"/>
<circle cx="205.00" cy="990.50" r="3.45" fill="#000"/>
<circle cx="283.50" cy="746.50" r="3.45" fill="#000"/>
<circle cx="277.50" cy="833.50" r="3.45" fill="#000"/>
<circle cx="289.50" cy="829.50" r="3.45" fill="#000"/>
<circle cx="283.50" cy="895.50" r="3.45" fill="#000"/>
<circle cx="283.50" cy="950.00" r="3.45" fill="#000"/>
<text transform="translate(219.50,1044.00) rotate(-45)" x="-96.48" y="0" font-size="28" textLength="97.81" lengthAdjust="spacingAndGlyphs">Control</text>
<text transform="translate(300.00,1046.50) rotate(-45)" x="-132.20" y="0" font-size="28" textLength="132.08" lengthAdjust="spacingAndGlyphs">ΔMdm2<tspan dy="-12.46" font-size="17.78">Hep</tspan><tspan dy="12.46" font-size="28">&#8203;</tspan></text>
<line x1="463.10" y1="713.25" x2="463.10" y2="1016.75" stroke="#222222" stroke-width="1.5"/>
<line x1="453.10" y1="714.00" x2="463.10" y2="714.00" stroke="#222222" stroke-width="1.5"/>
<text x="406.90" y="722.10" font-size="23.3" textLength="36.27" lengthAdjust="spacingAndGlyphs">1.5</text>
<line x1="453.10" y1="814.60" x2="463.10" y2="814.60" stroke="#222222" stroke-width="1.5"/>
<text x="405.78" y="822.70" font-size="23.3" textLength="36.27" lengthAdjust="spacingAndGlyphs">1.0</text>
<line x1="453.10" y1="915.50" x2="463.10" y2="915.50" stroke="#222222" stroke-width="1.5"/>
<text x="406.90" y="923.60" font-size="23.3" textLength="36.27" lengthAdjust="spacingAndGlyphs">0.5</text>
<line x1="453.10" y1="1016.00" x2="463.10" y2="1016.00" stroke="#222222" stroke-width="1.5"/>
<text x="427.54" y="1024.10" font-size="23.3" textLength="14.51" lengthAdjust="spacingAndGlyphs">0</text>
<rect x="488.60" y="1009.60" width="52.30" height="6.40" fill="#00BE00"/>
<rect x="567.00" y="946.30" width="52.60" height="69.70" fill="#5757F7"/>
<line x1="453.00" y1="1016.00" x2="647.50" y2="1016.00" stroke="#222222" stroke-width="1.5"/>
<text x="510.40" y="749.00" font-size="22.8" textLength="71.09" lengthAdjust="spacingAndGlyphs">0.0317</text>
<text transform="translate(390.00,968.40) rotate(-90)" x="-1.03" y="0" font-size="28" textLength="206.01" lengthAdjust="spacingAndGlyphs">pSmad3/Smad3</text>
<g transform="translate(469.70,752.00)"><path d="M21.77,39.00 C19.95,43.54 17.69,48.07 17.01,58.96 L19.95,59.64 C20.41,50.79 23.58,45.80 29.02,43.54 L28.12,39.00 Z" fill="#FFFADC" stroke="#222" stroke-width="0.7" stroke-dasharray="2 1"/><path d="M37.64,8.84 C45.35,8.62 51.25,14.97 54.88,23.58 C58.50,31.75 58.96,40.82 54.88,49.89 C51.25,58.05 44.67,66.67 36.28,67.66 C29.02,68.48 24.94,63.49 23.81,55.78 C22.90,49.43 25.17,45.35 29.48,44.22 C27.21,39.91 29.02,34.47 27.21,29.02 C24.49,21.77 26.30,13.61 31.29,10.20 C33.56,8.84 35.83,8.84 37.64,8.84 Z" fill="url(#kidgrad)" stroke="#111" stroke-width="0.9"/><path d="M16.33,34.92 L29.25,34.38 L28.34,38.55 L16.33,37.87 Z" fill="#8080FF"/><path d="M16.33,31.97 C20.41,30.84 25.40,30.84 29.02,30.29 L29.25,34.01 L16.78,34.33 Z" fill="#FF0000"/><path d="M16.33,34.47 L29.02,34.10" stroke="#333" stroke-width="0.5" fill="none"/></g>
<line x1="514.80" y1="1006.50" x2="514.80" y2="1013.50" stroke="#111" stroke-width="1.5"/>
<line x1="501.80" y1="1006.50" x2="527.80" y2="1006.50" stroke="#111" stroke-width="1.5"/>
<line x1="501.80" y1="1013.50" x2="527.80" y2="1013.50" stroke="#111" stroke-width="1.5"/>
<line x1="593.50" y1="912.00" x2="593.50" y2="980.50" stroke="#111" stroke-width="1.5"/>
<line x1="580.50" y1="912.00" x2="606.50" y2="912.00" stroke="#111" stroke-width="1.5"/>
<line x1="580.50" y1="980.50" x2="606.50" y2="980.50" stroke="#111" stroke-width="1.5"/>
<circle cx="496.00" cy="1014.50" r="3.45" fill="#000"/>
<circle cx="509.00" cy="1011.50" r="3.45" fill="#000"/>
<circle cx="520.50" cy="1013.50" r="3.45" fill="#000"/>
<circle cx="533.00" cy="1012.50" r="3.45" fill="#000"/>
<circle cx="514.80" cy="996.80" r="3.45" fill="#000"/>
<circle cx="593.50" cy="824.00" r="3.45" fill="#000"/>
<circle cx="593.50" cy="922.50" r="3.45" fill="#000"/>
<circle cx="593.50" cy="972.00" r="3.45" fill="#000"/>
<circle cx="587.50" cy="1008.00" r="3.45" fill="#000"/>
<circle cx="599.50" cy="1005.00" r="3.45" fill="#000"/>
<text transform="translate(530.50,1044.00) rotate(-45)" x="-96.48" y="0" font-size="28" textLength="97.81" lengthAdjust="spacingAndGlyphs">Control</text>
<text transform="translate(610.00,1046.20) rotate(-45)" x="-132.20" y="0" font-size="28" textLength="132.08" lengthAdjust="spacingAndGlyphs">ΔMdm2<tspan dy="-12.46" font-size="17.78">Hep</tspan><tspan dy="12.46" font-size="28">&#8203;</tspan></text>
<text transform="translate(908.55,679.80) scale(1.1,1)" font-size="37" font-weight="bold" fill="#000" stroke="#000" stroke-width="1.6" stroke-linejoin="round">f</text>
<g transform="translate(956.00,653.60) scale(1.0)" stroke="#111" stroke-width="1.3" stroke-linejoin="miter"><rect x="9.3" y="6.5" width="39.2" height="74.2" fill="#fff"/><rect x="9.3" y="42.6" width="39.2" height="38.1" fill="#FFF8B4"/><polygon points="9.3,80.7 48.5,80.7 28.9,129.2" fill="#FF0000"/><rect x="0.6" y="0.4" width="47.9" height="6.1" fill="#fff"/></g>
<line x1="986.90" y1="798.70" x2="986.90" y2="932.80" stroke="#44546A" stroke-width="3.8"/>
<polygon points="986.90,946.30 979.90,928.80 986.90,932.80 993.90,928.80" fill="#44546A"/>
<g transform="translate(922.50,633.70)"><path d="M1.2999999999999972,345.4 L1.2999999999999972,355.0 A70.8,21.3 0 0 0 142.89999999999998,355.0 L142.89999999999998,345.4 Z" fill="#FFE3E3" stroke="#000" stroke-width="2.2"/><ellipse cx="72.1" cy="345.4" rx="70.8" ry="21.3" fill="#FF8080" stroke="#000" stroke-width="2.4"/><clipPath id="rc994_0"><path d="M27.0,338.0 L36.0,329.8 L118.5,329.8 L109.5,338.0 Z"/></clipPath><path d="M27.0,338.0 L36.0,329.8 L118.5,329.8 L109.5,338.0 Z" fill="#FFFBDB" stroke="#000" stroke-width="1.5" stroke-linejoin="miter"/><g clip-path="url(#rc994_0)" fill="none" stroke="#000"><path d="M-4.1,328.8 V339.0 M9.8,328.8 V339.0 M23.7,328.8 V339.0 M37.6,328.8 V339.0 M51.5,328.8 V339.0 M65.4,328.8 V339.0 M79.3,328.8 V339.0 M93.2,328.8 V339.0 M107.1,328.8 V339.0 M121.0,328.8 V339.0 M134.9,328.8 V339.0 M148.8,328.8 V339.0 M162.7,328.8 V339.0" stroke-width="3.0"/><path d="M-3.3,338.3 L7.7,329.5 M2.9,334.3 L8.6,334.3 M10.6,338.3 L21.6,329.5 M16.8,334.3 L22.5,334.3 M24.5,338.3 L35.5,329.5 M30.7,334.3 L36.4,334.3 M38.4,338.3 L49.4,329.5 M44.6,334.3 L50.3,334.3 M52.3,338.3 L63.3,329.5 M58.5,334.3 L64.2,334.3 M66.2,338.3 L77.2,329.5 M72.4,334.3 L78.1,334.3 M80.1,338.3 L91.1,329.5 M86.3,334.3 L92.0,334.3 M94.0,338.3 L105.0,329.5 M100.2,334.3 L105.9,334.3 M107.9,338.3 L118.9,329.5 M114.1,334.3 L119.8,334.3 M121.8,338.3 L132.8,329.5 M128.0,334.3 L133.7,334.3 M135.7,338.3 L146.7,329.5 M141.9,334.3 L147.6,334.3 M149.6,338.3 L160.6,329.5 M155.8,334.3 L161.5,334.3 M163.5,338.3 L174.5,329.5 M169.7,334.3 L175.4,334.3" stroke-width="2.0"/></g><clipPath id="rc994_1"><path d="M13.0,347.4 L26.0,339.0 L131.5,339.0 L118.5,347.4 Z"/></clipPath><path d="M13.0,347.4 L26.0,339.0 L131.5,339.0 L118.5,347.4 Z" fill="#FFFBDB" stroke="#000" stroke-width="1.5" stroke-linejoin="miter"/><g clip-path="url(#rc994_1)" fill="none" stroke="#000"><path d="M-9.1,338.0 V348.4 M4.8,338.0 V348.4 M18.7,338.0 V348.4 M32.6,338.0 V348.4 M46.5,338.0 V348.4 M60.4,338.0 V348.4 M74.3,338.0 V348.4 M88.2,338.0 V348.4 M102.1,338.0 V348.4 M116.0,338.0 V348.4 M129.9,338.0 V348.4 M143.8,338.0 V348.4 M157.7,338.0 V348.4" stroke-width="3.0"/><path d="M-8.3,347.7 L2.7,338.7 M-2.1,343.6 L3.6,343.6 M5.6,347.7 L16.6,338.7 M11.8,343.6 L17.5,343.6 M19.5,347.7 L30.5,338.7 M25.7,343.6 L31.4,343.6 M33.4,347.7 L44.4,338.7 M39.6,343.6 L45.3,343.6 M47.3,347.7 L58.3,338.7 M53.5,343.6 L59.2,343.6 M61.2,347.7 L72.2,338.7 M67.4,343.6 L73.1,343.6 M75.1,347.7 L86.1,338.7 M81.3,343.6 L87.0,343.6 M89.0,347.7 L100.0,338.7 M95.2,343.6 L100.9,343.6 M102.9,347.7 L113.9,338.7 M109.1,343.6 L114.8,343.6 M116.8,347.7 L127.8,338.7 M123.0,343.6 L128.7,343.6 M130.7,347.7 L141.7,338.7 M136.9,343.6 L142.6,343.6 M144.6,347.7 L155.6,338.7 M150.8,343.6 L156.5,343.6 M158.5,347.7 L169.5,338.7 M164.7,343.6 L170.4,343.6" stroke-width="2.0"/></g><clipPath id="rc994_2"><path d="M24.5,357.4 L36.5,348.4 L117.0,348.4 L105.0,357.4 Z"/></clipPath><path d="M24.5,357.4 L36.5,348.4 L117.0,348.4 L105.0,357.4 Z" fill="#FFFBDB" stroke="#000" stroke-width="1.5" stroke-linejoin="miter"/><g clip-path="url(#rc994_2)" fill="none" stroke="#000"><path d="M-2.1,347.4 V358.4 M11.8,347.4 V358.4 M25.7,347.4 V358.4 M39.6,347.4 V358.4 M53.5,347.4 V358.4 M67.4,347.4 V358.4 M81.3,347.4 V358.4 M95.2,347.4 V358.4 M109.1,347.4 V358.4 M123.0,347.4 V358.4 M136.9,347.4 V358.4 M150.8,347.4 V358.4 M164.7,347.4 V358.4" stroke-width="3.0"/><path d="M-1.3,357.7 L9.7,348.1 M4.9,353.3 L10.6,353.3 M12.6,357.7 L23.6,348.1 M18.8,353.3 L24.5,353.3 M26.5,357.7 L37.5,348.1 M32.7,353.3 L38.4,353.3 M40.4,357.7 L51.4,348.1 M46.6,353.3 L52.3,353.3 M54.3,357.7 L65.3,348.1 M60.5,353.3 L66.2,353.3 M68.2,357.7 L79.2,348.1 M74.4,353.3 L80.1,353.3 M82.1,357.7 L93.1,348.1 M88.3,353.3 L94.0,353.3 M96.0,357.7 L107.0,348.1 M102.2,353.3 L107.9,353.3 M109.9,357.7 L120.9,348.1 M116.1,353.3 L121.8,353.3 M123.8,357.7 L134.8,348.1 M130.0,353.3 L135.7,353.3 M137.7,357.7 L148.7,348.1 M143.9,353.3 L149.6,353.3 M151.6,357.7 L162.6,348.1 M157.8,353.3 L163.5,353.3 M165.5,357.7 L176.5,348.1 M171.7,353.3 L177.4,353.3" stroke-width="2.0"/></g><path d="M33.0,357.2 L24.2,362.6 L25.2,359.8 L30.5,356.6 Z M46.0,357.2 L37.2,362.6 L38.2,359.8 L43.5,356.6 Z M57.5,357.2 L48.7,362.6 L49.7,359.8 L55.0,356.6 Z M72.0,357.2 L63.2,362.6 L64.2,359.8 L69.5,356.6 Z M84.0,357.2 L75.2,362.6 L76.2,359.8 L81.5,356.6 Z M98.5,357.2 L89.7,362.6 L90.7,359.8 L96.0,356.6 Z M25.5,339.4 L9.8,348.9 L11.0,350.2 L16.0,347.4 Z M33.0,347.6 L21.8,355.4 L23.0,357.2 L29,352.5 Z" fill="#000"/></g>
<text x="1079.50" y="989.70" font-size="28" textLength="122.59" lengthAdjust="spacingAndGlyphs">± TGFβR1i</text>
<text x="1046.10" y="670.80" font-size="28" textLength="209.31" lengthAdjust="spacingAndGlyphs">Plasma (control)</text>
<text x="1137.68" y="703.50" font-size="28" textLength="25.35" lengthAdjust="spacingAndGlyphs">or</text>
<text x="1025.79" y="735.60" font-size="28" textLength="250.65" lengthAdjust="spacingAndGlyphs">Plasma (ΔMdm2<tspan dy="-12.46" font-size="17.78">Hep</tspan><tspan dy="12.46" font-size="28">&#8203;</tspan>)</text>
<text x="896.43" y="1043.60" font-size="28" textLength="196.09" lengthAdjust="spacingAndGlyphs">NS cell-derived</text>
<text x="904.86" y="1076.30" font-size="28" textLength="179.68" lengthAdjust="spacingAndGlyphs">neuronal cells</text>
<text transform="translate(1481.35,680.40) scale(1.1,1)" font-size="37" font-weight="bold" fill="#000" stroke="#000" stroke-width="1.6" stroke-linejoin="round">g</text>
<line x1="1608.10" y1="699.15" x2="1608.10" y2="1036.15" stroke="#222222" stroke-width="1.5"/>
<line x1="1597.10" y1="699.90" x2="1608.10" y2="699.90" stroke="#222222" stroke-width="1.5"/>
<text x="1556.85" y="708.20" font-size="23.3" textLength="29.02" lengthAdjust="spacingAndGlyphs">45</text>
<line x1="1597.10" y1="811.80" x2="1608.10" y2="811.80" stroke="#222222" stroke-width="1.5"/>
<text x="1555.73" y="820.33" font-size="23.3" textLength="29.02" lengthAdjust="spacingAndGlyphs">30</text>
<line x1="1597.10" y1="923.40" x2="1608.10" y2="923.40" stroke="#222222" stroke-width="1.5"/>
<text x="1556.85" y="932.17" font-size="23.3" textLength="29.02" lengthAdjust="spacingAndGlyphs">15</text>
<line x1="1597.10" y1="1035.40" x2="1608.10" y2="1035.40" stroke="#222222" stroke-width="1.5"/>
<text x="1570.24" y="1044.40" font-size="23.3" textLength="14.51" lengthAdjust="spacingAndGlyphs">0</text>
<rect x="1633.60" y="856.40" width="51.70" height="179.00" fill="#00BE00"/>
<rect x="1710.80" y="842.80" width="52.10" height="192.60" fill="#FF8080"/>
<rect x="1788.00" y="741.00" width="51.80" height="294.40" fill="#0000FF"/>
<rect x="1865.60" y="780.20" width="52.10" height="255.20" fill="#FF0000"/>
<line x1="1597.20" y1="1035.40" x2="1944.60" y2="1035.40" stroke="#222222" stroke-width="1.5"/>
<text x="1689.92" y="696.80" font-size="22.8" textLength="90.02" lengthAdjust="spacingAndGlyphs">&gt;0.0001</text>
<text x="1834.00" y="706.10" font-size="22.8" textLength="77.35" lengthAdjust="spacingAndGlyphs">0.0033</text>
<polyline points="1661.80,816.90 1661.80,709.00 1807.50,709.00" fill="none" stroke="#111" stroke-width="1.15" stroke-linejoin="miter"/>
<polyline points="1844.90,712.50 1899.30,712.50 1899.30,749.60" fill="none" stroke="#111" stroke-width="1.15" stroke-linejoin="miter"/>
<line x1="1659.50" y1="853.50" x2="1659.50" y2="859.00" stroke="#111" stroke-width="1.5"/>
<line x1="1646.50" y1="853.50" x2="1672.50" y2="853.50" stroke="#111" stroke-width="1.5"/>
<line x1="1646.50" y1="859.00" x2="1672.50" y2="859.00" stroke="#111" stroke-width="1.5"/>
<line x1="1737.00" y1="835.00" x2="1737.00" y2="850.50" stroke="#111" stroke-width="1.5"/>
<line x1="1724.00" y1="835.00" x2="1750.00" y2="835.00" stroke="#111" stroke-width="1.5"/>
<line x1="1724.00" y1="850.50" x2="1750.00" y2="850.50" stroke="#111" stroke-width="1.5"/>
<line x1="1814.00" y1="733.00" x2="1814.00" y2="749.00" stroke="#111" stroke-width="1.5"/>
<line x1="1801.00" y1="733.00" x2="1827.00" y2="733.00" stroke="#111" stroke-width="1.5"/>
<line x1="1801.00" y1="749.00" x2="1827.00" y2="749.00" stroke="#111" stroke-width="1.5"/>
<line x1="1891.50" y1="772.50" x2="1891.50" y2="788.50" stroke="#111" stroke-width="1.5"/>
<line x1="1878.50" y1="772.50" x2="1904.50" y2="772.50" stroke="#111" stroke-width="1.5"/>
<line x1="1878.50" y1="788.50" x2="1904.50" y2="788.50" stroke="#111" stroke-width="1.5"/>
<circle cx="1645.50" cy="855.50" r="3.7" fill="#000"/>
<circle cx="1645.50" cy="862.50" r="3.7" fill="#000"/>
<circle cx="1659.50" cy="846.00" r="3.7" fill="#000"/>
<circle cx="1659.50" cy="859.00" r="3.7" fill="#000"/>
<circle cx="1673.00" cy="860.50" r="3.7" fill="#000"/>
<circle cx="1730.50" cy="845.00" r="3.7" fill="#000"/>
<circle cx="1743.50" cy="838.50" r="3.7" fill="#000"/>
<circle cx="1737.00" cy="817.50" r="3.7" fill="#000"/>
<circle cx="1743.50" cy="849.00" r="3.7" fill="#000"/>
<circle cx="1737.00" cy="864.50" r="3.7" fill="#000"/>
<circle cx="1814.00" cy="716.00" r="3.7" fill="#000"/>
<circle cx="1814.00" cy="731.50" r="3.7" fill="#000"/>
<circle cx="1814.00" cy="745.00" r="3.7" fill="#000"/>
<circle cx="1807.50" cy="758.50" r="3.7" fill="#000"/>
<circle cx="1820.50" cy="756.00" r="3.7" fill="#000"/>
<circle cx="1878.00" cy="768.50" r="3.7" fill="#000"/>
<circle cx="1891.50" cy="766.00" r="3.7" fill="#000"/>
<circle cx="1905.00" cy="770.00" r="3.7" fill="#000"/>
<circle cx="1891.50" cy="788.50" r="3.7" fill="#000"/>
<circle cx="1891.50" cy="807.00" r="3.7" fill="#000"/>
<text x="1501.20" y="1078.90" font-size="28" textLength="109.40" lengthAdjust="spacingAndGlyphs">TGFβR1i:</text>
<text x="1510.52" y="1120.40" font-size="28" textLength="100.25" lengthAdjust="spacingAndGlyphs">Plasma:</text>
<text x="1652.00" y="1065.35" font-size="26" textLength="9.06" lengthAdjust="spacingAndGlyphs">–</text>
<text x="1728.45" y="1062.80" font-size="18" font-weight="bold" textLength="10.83" lengthAdjust="spacingAndGlyphs">+</text>
<text x="1808.90" y="1065.35" font-size="26" textLength="9.06" lengthAdjust="spacingAndGlyphs">–</text>
<text x="1884.65" y="1062.80" font-size="18" font-weight="bold" textLength="10.83" lengthAdjust="spacingAndGlyphs">+</text>
<line x1="1635.60" y1="1083.60" x2="1758.80" y2="1083.60" stroke="#111" stroke-width="1.5"/>
<line x1="1790.50" y1="1083.60" x2="1914.00" y2="1083.60" stroke="#111" stroke-width="1.5"/>
<text transform="translate(1713.00,1109.00) rotate(-45)" x="-96.48" y="0" font-size="28" textLength="97.81" lengthAdjust="spacingAndGlyphs">Control</text>
<text transform="translate(1871.50,1110.70) rotate(-45)" x="-132.20" y="0" font-size="28" textLength="132.08" lengthAdjust="spacingAndGlyphs">ΔMdm2<tspan dy="-12.46" font-size="17.78">Hep</tspan><tspan dy="12.46" font-size="28">&#8203;</tspan></text>
<text transform="translate(1503.50,1000.70) rotate(-90)" x="-1.95" y="0" font-size="28" textLength="293.22" lengthAdjust="spacingAndGlyphs">Percentage of SA β-gal<tspan dy="-12.46" font-size="17.78">+</tspan><tspan dy="12.46" font-size="28">&#8203;</tspan></text>
<text transform="translate(1537.50,941.00) rotate(-90)" x="-1.00" y="0" font-size="28" textLength="173.51" lengthAdjust="spacingAndGlyphs">neuronal cells</text>
<text transform="translate(0.90,1261.50) scale(1.1,1)" font-size="37" font-weight="bold" fill="#000" stroke="#000" stroke-width="1.6" stroke-linejoin="round">h</text>
<text x="16.50" y="1293.90" font-size="28" textLength="51.69" lengthAdjust="spacingAndGlyphs">AAV</text>
<line x1="42.90" y1="1297.40" x2="42.90" y2="1347.50" stroke="#44546A" stroke-width="3.8"/>
<polygon points="42.90,1361.00 35.90,1343.50 42.90,1347.50 49.90,1343.50" fill="#44546A"/>
<text x="10.01" y="1383.50" font-size="28" textLength="72.76" lengthAdjust="spacingAndGlyphs">Day 0</text>
<text x="236.89" y="1383.50" font-size="28" textLength="69.75" lengthAdjust="spacingAndGlyphs">Day 2</text>
<text x="88.40" y="1408.60" font-size="28" font-style="italic" textLength="139.79" lengthAdjust="spacingAndGlyphs">Mdm2<tspan dy="-12.46" font-size="19.32">E5/E6fl</tspan><tspan dy="12.46" font-size="28">&#8203;</tspan></text>
<polyline points="41.40,1389.00 41.40,1417.70 274.20,1417.70 274.20,1389.00" fill="none" stroke="#222" stroke-width="1.2" stroke-linejoin="miter"/>
<g transform="translate(0.00,0.00)" fill="none" stroke="#000" stroke-width="1.2" stroke-linecap="round" stroke-linejoin="round"><path d="M136.3,1356.4 L226.5,1356.4 C229.5,1355.6 230.6,1353.6 228.6,1352.0 L207.6,1342.4 C207.2,1336.5 206.0,1331.0 203.6,1328.6 C200.0,1326.6 196.2,1330.8 193.6,1335.4 C184.0,1330.6 175.0,1326.0 166.0,1326.4 C152.0,1327.2 141.0,1338.5 136.3,1353.0 Z" fill="#fff"/><path d="M196.0,1337.0 C198.2,1332.4 200.8,1330.4 202.2,1331.8 C203.6,1333.6 204.0,1338.0 204.2,1341.0" stroke-width="0.9"/><ellipse cx="210.5" cy="1348.9" rx="3.2" ry="2.6" fill="#000" stroke="none"/><ellipse cx="210.0" cy="1349.0" rx="1.2" ry="1.0" fill="#444" stroke="none"/><path d="M218.0,1351.8 L222.6,1352.6 M218.4,1354.6 L222.0,1353.8" stroke="#888" stroke-width="0.9"/><path d="M136.6,1354.3 C131.5,1349.2 126.0,1347.9 121.0,1349.6 C114.6,1351.8 110.6,1357.6 106.2,1361.0" stroke="#000" stroke-width="4.6" stroke-linecap="butt"/><path d="M136.6,1354.3 C131.5,1349.2 126.0,1347.9 121.0,1349.6 C114.6,1351.8 110.6,1357.6 106.2,1361.0" stroke="#fff" stroke-width="2.5" stroke-linecap="butt"/><path d="M136.2,1352.0 L134.4,1354.2 M133.4,1350.0 L132.0,1352.4 M130.6,1348.5 L129.6,1351.2 M127.7,1347.7 L127.2,1350.5 M124.8,1347.5 L124.9,1350.3 M121.9,1347.9 L122.6,1350.6 M118.5,1349.1 L119.8,1351.6 M115.0,1351.3 L116.6,1353.5 M111.9,1353.8 L113.8,1355.9 M109.2,1356.5 L111.1,1358.5 M106.6,1358.9 L108.4,1361.0" stroke-width="1.0" stroke-linecap="butt"/><path d="M98.0,1343.2 C98.6,1352.6 101.0,1360.4 104.4,1363.2 C106.0,1363.6 107.4,1362.6 108.6,1361.2 L106.4,1358.8 C105.6,1359.8 105.0,1360.0 104.6,1359.6 C102.2,1357.0 100.0,1351.0 99.1,1343.2 Z" fill="#000" stroke="none"/></g>
<g fill="#fff" stroke="#000" stroke-width="1.1" stroke-linejoin="miter" transform="translate(92.6,1310.9) rotate(46.5)"><rect x="-1.2" y="-3.3" width="2.6" height="6.6"/><rect x="1.4" y="-0.9" width="6.0" height="1.8"/><rect x="7.4" y="-2.5" width="30.5" height="5.0"/><path d="M11,-2.5 v3 M14.3,-2.5 v3 M17.6,-2.5 v3 M20.9,-2.5 v3 M24.2,-2.5 v3 M27.5,-2.5 v3 M30.8,-2.5 v3 M34.1,-2.5 v3" fill="none" stroke-width="1.1"/><path d="M37.9,0 L52.5,0" fill="none" stroke-width="1.0"/></g>
<line x1="308.70" y1="1381.60" x2="370.50" y2="1381.60" stroke="#44546A" stroke-width="3.8"/>
<polygon points="384.00,1381.60 366.50,1388.60 370.50,1381.60 366.50,1374.60" fill="#44546A"/>
<text x="389.63" y="1312.30" font-size="28" textLength="91.94" lengthAdjust="spacingAndGlyphs">Collect</text>
<g transform="translate(0,0)"><path d="M439.0,1392.0 L442.5,1395.1 L441.3,1400.2 L438.2,1401.2 L434.4,1398.6 Z" fill="#FFF3A8" stroke="#000" stroke-width="1.0" stroke-linejoin="round"/><path d="M412.2,1351.4 L419.8,1351.4 L426.0,1353.3 L436.7,1358.3 L442.0,1359.9 L452.0,1358.3 L459.7,1357.6 L467.3,1359.9 L478.0,1364.5 L482.3,1369.1 L482.3,1371.7 L478.0,1373.7 L470.4,1382.8 L463.5,1389.7 L458.1,1392.0 L448.9,1392.5 L442.0,1391.3 L440.0,1394.3 L433.6,1397.4 L426.0,1398.9 L419.8,1400.2 L412.9,1403.5 L407.6,1405.8 L403.0,1410.4 L397.6,1414.7 L394.6,1414.3 L393.8,1403.5 L392.6,1391.3 L390.7,1379.0 L391.9,1372.9 L395.3,1366.8 L398.1,1359.1 L403.0,1355.3 L407.6,1353.0 Z" fill="#E3C9B1" stroke="#000" stroke-width="1.9" stroke-linejoin="round"/><path d="M442.0,1359.9 L441.3,1376.0 L437.9,1391.3 L433.6,1397.4" fill="none" stroke="#000" stroke-width="1.2"/><path d="M439.0,1392.0 L442.5,1395.1 L441.3,1400.2 L438.2,1401.2 L434.8,1398.3 Z" fill="#FFF3A8" stroke="#000" stroke-width="0.9" stroke-linejoin="round"/></g>
<line x1="489.00" y1="1381.60" x2="552.10" y2="1381.60" stroke="#44546A" stroke-width="3.8"/>
<polygon points="565.60,1381.60 548.10,1388.60 552.10,1381.60 548.10,1374.60" fill="#44546A"/>
<text x="540.14" y="1302.80" font-size="28" textLength="162.07" lengthAdjust="spacingAndGlyphs">Slice culture</text>
<text x="586.85" y="1335.30" font-size="28" textLength="77.15" lengthAdjust="spacingAndGlyphs">(48 h)</text>
<g transform="translate(625.50,1377.10)"><path d="M-41,0 L-41,11 A41,21 0 0 0 41,11 L41,0 Z" fill="#FFE3E3" stroke="#000" stroke-width="1.6"/><ellipse cx="0" cy="0" rx="41" ry="21" fill="#FF8080" stroke="#000" stroke-width="1.6"/><circle cx="-15.3" cy="1.6" r="15" fill="#E3C9B1" stroke="#b9a58f" stroke-width="0.8"/><circle cx="18.3" cy="-1.1" r="15" fill="#E3C9B1" stroke="#b9a58f" stroke-width="0.8"/></g>
<line x1="621.20" y1="1441.80" x2="621.20" y2="1504.90" stroke="#44546A" stroke-width="3.8"/>
<polygon points="621.20,1518.40 614.20,1500.90 621.20,1504.90 628.20,1500.90" fill="#44546A"/>
<text x="676.88" y="1471.80" font-size="28" textLength="44.47" lengthAdjust="spacingAndGlyphs">CM</text>
<text x="654.90" y="1503.80" font-size="28" textLength="96.83" lengthAdjust="spacingAndGlyphs">transfer</text>
<g transform="translate(27.10,203.10)" fill="none" stroke="#000" stroke-width="1.2" stroke-linecap="round" stroke-linejoin="round"><path d="M136.3,1356.4 L226.5,1356.4 C229.5,1355.6 230.6,1353.6 228.6,1352.0 L207.6,1342.4 C207.2,1336.5 206.0,1331.0 203.6,1328.6 C200.0,1326.6 196.2,1330.8 193.6,1335.4 C184.0,1330.6 175.0,1326.0 166.0,1326.4 C152.0,1327.2 141.0,1338.5 136.3,1353.0 Z" fill="#fff"/><path d="M196.0,1337.0 C198.2,1332.4 200.8,1330.4 202.2,1331.8 C203.6,1333.6 204.0,1338.0 204.2,1341.0" stroke-width="0.9"/><ellipse cx="210.5" cy="1348.9" rx="3.2" ry="2.6" fill="#000" stroke="none"/><ellipse cx="210.0" cy="1349.0" rx="1.2" ry="1.0" fill="#444" stroke="none"/><path d="M218.0,1351.8 L222.6,1352.6 M218.4,1354.6 L222.0,1353.8" stroke="#888" stroke-width="0.9"/><path d="M136.6,1354.3 C131.5,1349.2 126.0,1347.9 121.0,1349.6 C114.6,1351.8 110.6,1357.6 106.2,1361.0" stroke="#000" stroke-width="4.6" stroke-linecap="butt"/><path d="M136.6,1354.3 C131.5,1349.2 126.0,1347.9 121.0,1349.6 C114.6,1351.8 110.6,1357.6 106.2,1361.0" stroke="#fff" stroke-width="2.5" stroke-linecap="butt"/><path d="M136.2,1352.0 L134.4,1354.2 M133.4,1350.0 L132.0,1352.4 M130.6,1348.5 L129.6,1351.2 M127.7,1347.7 L127.2,1350.5 M124.8,1347.5 L124.9,1350.3 M121.9,1347.9 L122.6,1350.6 M118.5,1349.1 L119.8,1351.6 M115.0,1351.3 L116.6,1353.5 M111.9,1353.8 L113.8,1355.9 M109.2,1356.5 L111.1,1358.5 M106.6,1358.9 L108.4,1361.0" stroke-width="1.0" stroke-linecap="butt"/><path d="M98.0,1343.2 C98.6,1352.6 101.0,1360.4 104.4,1363.2 C106.0,1363.6 107.4,1362.6 108.6,1361.2 L106.4,1358.8 C105.6,1359.8 105.0,1360.0 104.6,1359.6 C102.2,1357.0 100.0,1351.0 99.1,1343.2 Z" fill="#000" stroke="none"/></g>
<text x="176.20" y="1599.60" font-size="28" textLength="37.59" lengthAdjust="spacingAndGlyphs">WT</text>
<line x1="308.70" y1="1562.00" x2="369.90" y2="1562.00" stroke="#44546A" stroke-width="3.8"/>
<polygon points="383.40,1562.00 365.90,1569.00 369.90,1562.00 365.90,1555.00" fill="#44546A"/>
<g transform="translate(416.50,1522.00)"><path d="M21.77,39.00 C19.95,43.54 17.69,48.07 17.01,58.96 L19.95,59.64 C20.41,50.79 23.58,45.80 29.02,43.54 L28.12,39.00 Z" fill="#FFFADC" stroke="#222" stroke-width="0.7" stroke-dasharray="2 1"/><path d="M37.64,8.84 C45.35,8.62 51.25,14.97 54.88,23.58 C58.50,31.75 58.96,40.82 54.88,49.89 C51.25,58.05 44.67,66.67 36.28,67.66 C29.02,68.48 24.94,63.49 23.81,55.78 C22.90,49.43 25.17,45.35 29.48,44.22 C27.21,39.91 29.02,34.47 27.21,29.02 C24.49,21.77 26.30,13.61 31.29,10.20 C33.56,8.84 35.83,8.84 37.64,8.84 Z" fill="url(#kidgrad)" stroke="#111" stroke-width="0.9"/><path d="M16.33,34.92 L29.25,34.38 L28.34,38.55 L16.33,37.87 Z" fill="#8080FF"/><path d="M16.33,31.97 C20.41,30.84 25.40,30.84 29.02,30.29 L29.25,34.01 L16.78,34.33 Z" fill="#FF0000"/><path d="M16.33,34.47 L29.02,34.10" stroke="#333" stroke-width="0.5" fill="none"/></g>
<line x1="489.00" y1="1562.00" x2="553.40" y2="1562.00" stroke="#44546A" stroke-width="3.8"/>
<polygon points="566.90,1562.00 549.40,1569.00 553.40,1562.00 549.40,1555.00" fill="#44546A"/>
<g transform="translate(621.20,1563.60)"><path d="M-41,0 L-41,10.7 A41,21 0 0 0 41,10.7 L41,0 Z" fill="#FFE3E3" stroke="#000" stroke-width="1.6"/><ellipse cx="0" cy="0" rx="41" ry="21" fill="#FF8080" stroke="#000" stroke-width="1.6"/><circle cx="-20.2" cy="1.3" r="14.5" fill="#996633" stroke="#7a5228" stroke-width="0.8"/><circle cx="13.7" cy="1.3" r="14.5" fill="#996633" stroke="#7a5228" stroke-width="0.8"/></g>
<line x1="621.20" y1="1610.30" x2="621.20" y2="1673.40" stroke="#44546A" stroke-width="3.8"/>
<polygon points="621.20,1686.90 614.20,1669.40 621.20,1673.40 628.20,1669.40" fill="#44546A"/>
<text x="538.99" y="1709.80" font-size="28" textLength="155.59" lengthAdjust="spacingAndGlyphs">Senescence</text>
<text x="570.35" y="1742.40" font-size="28" textLength="99.62" lengthAdjust="spacingAndGlyphs">readout</text>
<text transform="translate(830.30,1261.50) scale(1.1,1)" font-size="37" font-weight="bold" fill="#000" stroke="#000" stroke-width="1.6" stroke-linejoin="round">i</text>
<line x1="941.60" y1="1316.55" x2="941.60" y2="1659.25" stroke="#222222" stroke-width="1.7"/>
<line x1="929.00" y1="1317.40" x2="941.60" y2="1317.40" stroke="#222222" stroke-width="1.7"/>
<text x="886.13" y="1324.80" font-size="23.3" textLength="29.02" lengthAdjust="spacingAndGlyphs">80</text>
<line x1="929.00" y1="1402.40" x2="941.60" y2="1402.40" stroke="#222222" stroke-width="1.7"/>
<text x="886.13" y="1410.12" font-size="23.3" textLength="29.02" lengthAdjust="spacingAndGlyphs">60</text>
<line x1="929.00" y1="1487.40" x2="941.60" y2="1487.40" stroke="#222222" stroke-width="1.7"/>
<text x="886.13" y="1495.45" font-size="23.3" textLength="29.02" lengthAdjust="spacingAndGlyphs">40</text>
<line x1="929.00" y1="1572.70" x2="941.60" y2="1572.70" stroke="#222222" stroke-width="1.7"/>
<text x="886.13" y="1581.07" font-size="23.3" textLength="29.02" lengthAdjust="spacingAndGlyphs">20</text>
<line x1="929.00" y1="1658.40" x2="941.60" y2="1658.40" stroke="#222222" stroke-width="1.7"/>
<text x="900.64" y="1667.10" font-size="23.3" textLength="14.51" lengthAdjust="spacingAndGlyphs">0</text>
<rect x="972.20" y="1496.20" width="61.80" height="162.20" fill="#00BE00"/>
<rect x="1076.60" y="1452.40" width="61.50" height="206.00" fill="#5757F7"/>
<rect x="1180.60" y="1528.20" width="61.50" height="130.20" fill="#FF0000"/>
<line x1="929.00" y1="1658.40" x2="1275.80" y2="1658.40" stroke="#222222" stroke-width="1.5"/>
<text x="987.80" y="1329.40" font-size="22.8" textLength="74.83" lengthAdjust="spacingAndGlyphs">0.0243</text>
<text x="1177.50" y="1329.40" font-size="22.8" textLength="70.38" lengthAdjust="spacingAndGlyphs">0.0145</text>
<polyline points="1003.50,1446.20 1003.50,1345.60 1075.90,1345.60" fill="none" stroke="#111" stroke-width="1.15" stroke-linejoin="miter"/>
<polyline points="1130.60,1345.60 1244.90,1345.60 1244.90,1422.80" fill="none" stroke="#111" stroke-width="1.15" stroke-linejoin="miter"/>
<line x1="1003.20" y1="1489.50" x2="1003.20" y2="1503.00" stroke="#111" stroke-width="1.5"/>
<line x1="988.20" y1="1489.50" x2="1018.20" y2="1489.50" stroke="#111" stroke-width="1.5"/>
<line x1="988.20" y1="1503.00" x2="1018.20" y2="1503.00" stroke="#111" stroke-width="1.5"/>
<line x1="1107.30" y1="1438.00" x2="1107.30" y2="1467.50" stroke="#111" stroke-width="1.5"/>
<line x1="1092.30" y1="1438.00" x2="1122.30" y2="1438.00" stroke="#111" stroke-width="1.5"/>
<line x1="1092.30" y1="1467.50" x2="1122.30" y2="1467.50" stroke="#111" stroke-width="1.5"/>
<line x1="1211.40" y1="1507.50" x2="1211.40" y2="1549.00" stroke="#111" stroke-width="1.5"/>
<line x1="1196.40" y1="1507.50" x2="1226.40" y2="1507.50" stroke="#111" stroke-width="1.5"/>
<line x1="1196.40" y1="1549.00" x2="1226.40" y2="1549.00" stroke="#111" stroke-width="1.5"/>
<ellipse cx="1003.20" cy="1474.00" rx="4.4" ry="3.7" fill="#000"/>
<ellipse cx="995.50" cy="1485.50" rx="4.4" ry="3.7" fill="#000"/>
<ellipse cx="1011.00" cy="1489.50" rx="4.4" ry="3.7" fill="#000"/>
<ellipse cx="1003.20" cy="1499.50" rx="4.4" ry="3.7" fill="#000"/>
<ellipse cx="1003.20" cy="1509.00" rx="4.4" ry="3.7" fill="#000"/>
<ellipse cx="1003.20" cy="1520.00" rx="4.4" ry="3.7" fill="#000"/>
<ellipse cx="1107.30" cy="1398.50" rx="4.4" ry="3.7" fill="#000"/>
<ellipse cx="1107.30" cy="1433.50" rx="4.4" ry="3.7" fill="#000"/>
<ellipse cx="1107.30" cy="1451.50" rx="4.4" ry="3.7" fill="#000"/>
<ellipse cx="1099.50" cy="1462.50" rx="4.4" ry="3.7" fill="#000"/>
<ellipse cx="1115.00" cy="1463.50" rx="4.4" ry="3.7" fill="#000"/>
<ellipse cx="1107.30" cy="1508.50" rx="4.4" ry="3.7" fill="#000"/>
<ellipse cx="1211.40" cy="1433.00" rx="4.4" ry="3.7" fill="#000"/>
<ellipse cx="1211.40" cy="1520.50" rx="4.4" ry="3.7" fill="#000"/>
<ellipse cx="1211.40" cy="1533.00" rx="4.4" ry="3.7" fill="#000"/>
<ellipse cx="1211.40" cy="1543.50" rx="4.4" ry="3.7" fill="#000"/>
<ellipse cx="1203.50" cy="1572.00" rx="4.4" ry="3.7" fill="#000"/>
<ellipse cx="1219.50" cy="1568.50" rx="4.4" ry="3.7" fill="#000"/>
<text transform="translate(867.50,1649.90) rotate(-90)" x="-0.99" y="0" font-size="28" textLength="323.67" lengthAdjust="spacingAndGlyphs">p21<tspan dy="-12.46" font-size="17.78">+</tspan><tspan dy="12.46" font-size="28">&#8203;</tspan> tubular cells per FOV</text>
<text x="871.23" y="1696.50" font-size="28" textLength="49.59" lengthAdjust="spacingAndGlyphs">CM:</text>
<text transform="translate(1021.00,1689.00) rotate(-45)" x="-96.48" y="0" font-size="28" textLength="97.81" lengthAdjust="spacingAndGlyphs">Control</text>
<text transform="translate(1124.70,1688.00) rotate(-45)" x="-132.20" y="0" font-size="28" textLength="132.08" lengthAdjust="spacingAndGlyphs">ΔMdm2<tspan dy="-12.46" font-size="17.78">Hep</tspan><tspan dy="12.46" font-size="28">&#8203;</tspan></text>
<text transform="translate(1221.70,1688.00) rotate(-45)" x="-132.20" y="0" font-size="28" textLength="132.08" lengthAdjust="spacingAndGlyphs">ΔMdm2<tspan dy="-12.46" font-size="17.78">Hep</tspan><tspan dy="12.46" font-size="28">&#8203;</tspan></text>
<text x="780.30" y="1822.90" font-size="28" textLength="137.83" lengthAdjust="spacingAndGlyphs">Treatment:</text>
<text x="957.80" y="1822.90" font-size="28" textLength="92.39" lengthAdjust="spacingAndGlyphs">Vehicle</text>
<text x="1061.20" y="1822.90" font-size="28" textLength="92.28" lengthAdjust="spacingAndGlyphs">Vehicle</text>
<text x="1162.30" y="1822.90" font-size="28" textLength="100.07" lengthAdjust="spacingAndGlyphs">TGFβR1i</text>
<text transform="translate(1322.60,1261.50) scale(1.1,1)" font-size="37" font-weight="bold" fill="#000" stroke="#000" stroke-width="1.6" stroke-linejoin="round">j</text>
<text x="1559.40" y="1348.70" font-size="28" textLength="97.82" lengthAdjust="spacingAndGlyphs">TGFβ1 ±</text>
<text x="1558.00" y="1381.50" font-size="28" textLength="100.78" lengthAdjust="spacingAndGlyphs">TGFβR1i</text>
<line x1="1612.10" y1="1403.50" x2="1612.10" y2="1466.70" stroke="#44546A" stroke-width="3.8"/>
<polygon points="1612.10,1480.20 1605.10,1462.70 1612.10,1466.70 1619.10,1462.70" fill="#44546A"/>
<text x="1319.57" y="1455.40" font-size="28" textLength="192.83" lengthAdjust="spacingAndGlyphs">Unused human</text>
<text x="1332.15" y="1486.50" font-size="28" textLength="167.85" lengthAdjust="spacingAndGlyphs">donor kidney</text>
<g transform="translate(1382.10,1483.70)"><path d="M21.77,39.00 C19.95,43.54 17.69,48.07 17.01,58.96 L19.95,59.64 C20.41,50.79 23.58,45.80 29.02,43.54 L28.12,39.00 Z" fill="#FFFADC" stroke="#222" stroke-width="0.7" stroke-dasharray="2 1"/><path d="M37.64,8.84 C45.35,8.62 51.25,14.97 54.88,23.58 C58.50,31.75 58.96,40.82 54.88,49.89 C51.25,58.05 44.67,66.67 36.28,67.66 C29.02,68.48 24.94,63.49 23.81,55.78 C22.90,49.43 25.17,45.35 29.48,44.22 C27.21,39.91 29.02,34.47 27.21,29.02 C24.49,21.77 26.30,13.61 31.29,10.20 C33.56,8.84 35.83,8.84 37.64,8.84 Z" fill="url(#kidgrad)" stroke="#111" stroke-width="0.9"/><path d="M16.33,34.92 L29.25,34.38 L28.34,38.55 L16.33,37.87 Z" fill="#8080FF"/><path d="M16.33,31.97 C20.41,30.84 25.40,30.84 29.02,30.29 L29.25,34.01 L16.78,34.33 Z" fill="#FF0000"/><path d="M16.33,34.47 L29.02,34.10" stroke="#333" stroke-width="0.5" fill="none"/></g>
<line x1="1479.30" y1="1523.80" x2="1544.20" y2="1523.80" stroke="#44546A" stroke-width="3.8"/>
<polygon points="1557.70,1523.80 1540.20,1530.80 1544.20,1523.80 1540.20,1516.80" fill="#44546A"/>
<g transform="translate(1612.10,1525.00)"><path d="M-41,0 L-41,10.7 A41,21 0 0 0 41,10.7 L41,0 Z" fill="#FFE3E3" stroke="#000" stroke-width="1.6"/><ellipse cx="0" cy="0" rx="41" ry="21" fill="#FF8080" stroke="#000" stroke-width="1.6"/><circle cx="-20.2" cy="1.3" r="14.5" fill="#996633" stroke="#7a5228" stroke-width="0.8"/><circle cx="13.9" cy="1.3" r="14.5" fill="#996633" stroke="#7a5228" stroke-width="0.8"/></g>
<line x1="1612.10" y1="1574.50" x2="1612.10" y2="1638.90" stroke="#44546A" stroke-width="3.8"/>
<polygon points="1612.10,1652.40 1605.10,1634.90 1612.10,1638.90 1619.10,1634.90" fill="#44546A"/>
<text x="1530.59" y="1684.40" font-size="28" textLength="155.99" lengthAdjust="spacingAndGlyphs">Senescence</text>
<text x="1562.98" y="1715.60" font-size="28" textLength="97.00" lengthAdjust="spacingAndGlyphs">readout</text>
<text transform="translate(1709.20,1261.50) scale(1.1,1)" font-size="37" font-weight="bold" fill="#000" stroke="#000" stroke-width="1.6" stroke-linejoin="round">k</text>
<line x1="1835.80" y1="1290.65" x2="1835.80" y2="1660.25" stroke="#222222" stroke-width="1.5"/>
<line x1="1823.80" y1="1291.40" x2="1835.80" y2="1291.40" stroke="#222222" stroke-width="1.5"/>
<text x="1767.42" y="1299.10" font-size="23.3" textLength="43.53" lengthAdjust="spacingAndGlyphs">150</text>
<line x1="1823.80" y1="1413.90" x2="1835.80" y2="1413.90" stroke="#222222" stroke-width="1.5"/>
<text x="1767.42" y="1422.17" font-size="23.3" textLength="43.53" lengthAdjust="spacingAndGlyphs">100</text>
<line x1="1823.80" y1="1536.70" x2="1835.80" y2="1536.70" stroke="#222222" stroke-width="1.5"/>
<text x="1781.93" y="1545.53" font-size="23.3" textLength="29.02" lengthAdjust="spacingAndGlyphs">50</text>
<line x1="1823.80" y1="1659.50" x2="1835.80" y2="1659.50" stroke="#222222" stroke-width="1.5"/>
<text x="1796.44" y="1668.90" font-size="23.3" textLength="14.51" lengthAdjust="spacingAndGlyphs">0</text>
<rect x="1868.60" y="1478.20" width="66.40" height="181.30" fill="#00BE00"/>
<rect x="1966.90" y="1385.20" width="66.90" height="274.30" fill="#5757F7"/>
<rect x="2065.70" y="1485.20" width="66.80" height="174.30" fill="#FF0000"/>
<line x1="1825.00" y1="1659.50" x2="2167.00" y2="1659.50" stroke="#222222" stroke-width="1.5"/>
<text x="1883.90" y="1288.90" font-size="22.8" textLength="79.68" lengthAdjust="spacingAndGlyphs">0.0389</text>
<text x="2016.70" y="1270.20" font-size="22.8" textLength="77.55" lengthAdjust="spacingAndGlyphs">0.0259</text>
<polyline points="1888.50,1402.20 1888.50,1301.40 1961.10,1301.40" fill="none" stroke="#111" stroke-width="1.15" stroke-linejoin="miter"/>
<polyline points="2013.00,1280.60 2103.90,1280.60 2103.90,1358.70" fill="none" stroke="#111" stroke-width="1.15" stroke-linejoin="miter"/>
<line x1="1901.50" y1="1462.50" x2="1901.50" y2="1494.00" stroke="#111" stroke-width="1.5"/>
<line x1="1885.50" y1="1462.50" x2="1917.50" y2="1462.50" stroke="#111" stroke-width="1.5"/>
<line x1="1885.50" y1="1494.00" x2="1917.50" y2="1494.00" stroke="#111" stroke-width="1.5"/>
<line x1="2000.50" y1="1357.50" x2="2000.50" y2="1413.00" stroke="#111" stroke-width="1.5"/>
<line x1="1984.50" y1="1357.50" x2="2016.50" y2="1357.50" stroke="#111" stroke-width="1.5"/>
<line x1="1984.50" y1="1413.00" x2="2016.50" y2="1413.00" stroke="#111" stroke-width="1.5"/>
<line x1="2099.00" y1="1459.00" x2="2099.00" y2="1512.00" stroke="#111" stroke-width="1.5"/>
<line x1="2083.00" y1="1459.00" x2="2115.00" y2="1459.00" stroke="#111" stroke-width="1.5"/>
<line x1="2083.00" y1="1512.00" x2="2115.00" y2="1512.00" stroke="#111" stroke-width="1.5"/>
<circle cx="1901.50" cy="1426.00" r="3.7" fill="#000"/>
<circle cx="1894.00" cy="1458.50" r="3.7" fill="#000"/>
<circle cx="1909.00" cy="1465.50" r="3.7" fill="#000"/>
<circle cx="1901.50" cy="1478.00" r="3.7" fill="#000"/>
<circle cx="1901.50" cy="1507.50" r="3.7" fill="#000"/>
<circle cx="1901.50" cy="1533.50" r="3.7" fill="#000"/>
<circle cx="1993.00" cy="1330.00" r="3.7" fill="#000"/>
<circle cx="2007.50" cy="1335.00" r="3.7" fill="#000"/>
<circle cx="2000.50" cy="1367.00" r="3.7" fill="#000"/>
<circle cx="2000.50" cy="1419.00" r="3.7" fill="#000"/>
<circle cx="2000.50" cy="1476.50" r="3.7" fill="#000"/>
<circle cx="2099.00" cy="1379.50" r="3.7" fill="#000"/>
<circle cx="2099.00" cy="1463.50" r="3.7" fill="#000"/>
<circle cx="2099.00" cy="1482.50" r="3.7" fill="#000"/>
<circle cx="2099.00" cy="1493.50" r="3.7" fill="#000"/>
<circle cx="2099.00" cy="1518.00" r="3.7" fill="#000"/>
<circle cx="2099.00" cy="1576.50" r="3.7" fill="#000"/>
<text transform="translate(1748.00,1638.80) rotate(-90)" x="-0.99" y="0" font-size="28" textLength="324.47" lengthAdjust="spacingAndGlyphs">p21<tspan dy="-12.46" font-size="17.78">+</tspan><tspan dy="12.46" font-size="28">&#8203;</tspan> tubular cells per FOV</text>
<text transform="translate(1918.50,1685.80) rotate(-45)" x="-96.48" y="0" font-size="28" textLength="97.81" lengthAdjust="spacingAndGlyphs">Control</text>
<text transform="translate(2016.00,1682.40) rotate(-45)" x="-76.00" y="0" font-size="28" textLength="76.50" lengthAdjust="spacingAndGlyphs">TGFβ1</text>
<text transform="translate(2113.40,1683.50) rotate(-45)" x="-76.00" y="0" font-size="28" textLength="76.50" lengthAdjust="spacingAndGlyphs">TGFβ1</text>
<text transform="translate(2142.50,1703.60) rotate(-45)" x="-114.89" y="0" font-size="28" textLength="115.97" lengthAdjust="spacingAndGlyphs">+TGFβR1i</text>
</svg>
</body>
</html>
